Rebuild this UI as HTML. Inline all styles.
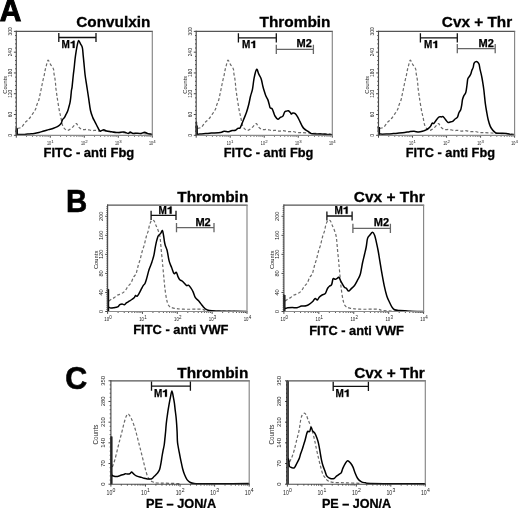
<!DOCTYPE html>
<html><head><meta charset="utf-8"><title>Flow cytometry histograms</title>
<style>
html,body{margin:0;padding:0;background:#fff;}
body{width:520px;height:508px;overflow:hidden;}
svg{display:block;filter:grayscale(1);}
text{font-family:"Liberation Sans", sans-serif;}
</style></head>
<body>
<svg width="520" height="508" viewBox="0 0 520 508" font-family="Liberation Sans, sans-serif">
<rect width="520" height="508" fill="#fff"/>
<line x1="13.90" y1="135.30" x2="16.30" y2="135.30" stroke="#333" stroke-width="0.9"/>
<line x1="15.10" y1="131.14" x2="16.30" y2="131.14" stroke="#333" stroke-width="0.9"/>
<line x1="15.10" y1="126.99" x2="16.30" y2="126.99" stroke="#333" stroke-width="0.9"/>
<line x1="15.10" y1="122.83" x2="16.30" y2="122.83" stroke="#333" stroke-width="0.9"/>
<line x1="15.10" y1="118.68" x2="16.30" y2="118.68" stroke="#333" stroke-width="0.9"/>
<line x1="13.90" y1="114.52" x2="16.30" y2="114.52" stroke="#333" stroke-width="0.9"/>
<line x1="15.10" y1="110.36" x2="16.30" y2="110.36" stroke="#333" stroke-width="0.9"/>
<line x1="15.10" y1="106.21" x2="16.30" y2="106.21" stroke="#333" stroke-width="0.9"/>
<line x1="15.10" y1="102.05" x2="16.30" y2="102.05" stroke="#333" stroke-width="0.9"/>
<line x1="15.10" y1="97.90" x2="16.30" y2="97.90" stroke="#333" stroke-width="0.9"/>
<line x1="13.90" y1="93.74" x2="16.30" y2="93.74" stroke="#333" stroke-width="0.9"/>
<line x1="15.10" y1="89.58" x2="16.30" y2="89.58" stroke="#333" stroke-width="0.9"/>
<line x1="15.10" y1="85.43" x2="16.30" y2="85.43" stroke="#333" stroke-width="0.9"/>
<line x1="15.10" y1="81.27" x2="16.30" y2="81.27" stroke="#333" stroke-width="0.9"/>
<line x1="15.10" y1="77.12" x2="16.30" y2="77.12" stroke="#333" stroke-width="0.9"/>
<line x1="13.90" y1="72.96" x2="16.30" y2="72.96" stroke="#333" stroke-width="0.9"/>
<line x1="15.10" y1="68.80" x2="16.30" y2="68.80" stroke="#333" stroke-width="0.9"/>
<line x1="15.10" y1="64.65" x2="16.30" y2="64.65" stroke="#333" stroke-width="0.9"/>
<line x1="15.10" y1="60.49" x2="16.30" y2="60.49" stroke="#333" stroke-width="0.9"/>
<line x1="15.10" y1="56.34" x2="16.30" y2="56.34" stroke="#333" stroke-width="0.9"/>
<line x1="13.90" y1="52.18" x2="16.30" y2="52.18" stroke="#333" stroke-width="0.9"/>
<line x1="15.10" y1="48.02" x2="16.30" y2="48.02" stroke="#333" stroke-width="0.9"/>
<line x1="15.10" y1="43.87" x2="16.30" y2="43.87" stroke="#333" stroke-width="0.9"/>
<line x1="15.10" y1="39.71" x2="16.30" y2="39.71" stroke="#333" stroke-width="0.9"/>
<line x1="15.10" y1="35.56" x2="16.30" y2="35.56" stroke="#333" stroke-width="0.9"/>
<line x1="13.90" y1="31.40" x2="16.30" y2="31.40" stroke="#333" stroke-width="0.9"/>
<text transform="translate(11.80 135.30) rotate(-90)" font-size="4.80" text-anchor="middle" fill="#1a1a1a">0</text>
<text transform="translate(11.80 114.52) rotate(-90)" font-size="4.80" text-anchor="middle" fill="#1a1a1a">60</text>
<text transform="translate(11.80 93.74) rotate(-90)" font-size="4.80" text-anchor="middle" fill="#1a1a1a">120</text>
<text transform="translate(11.80 72.96) rotate(-90)" font-size="4.80" text-anchor="middle" fill="#1a1a1a">180</text>
<text transform="translate(11.80 52.18) rotate(-90)" font-size="4.80" text-anchor="middle" fill="#1a1a1a">240</text>
<text transform="translate(11.80 31.40) rotate(-90)" font-size="4.80" text-anchor="middle" fill="#1a1a1a">300</text>
<text transform="translate(6.70 84.80) rotate(-90)" font-size="5.60" text-anchor="middle" fill="#1a1a1a">Counts</text>
<line x1="26.54" y1="135.30" x2="26.54" y2="136.70" stroke="#333" stroke-width="0.9"/>
<line x1="32.52" y1="135.30" x2="32.52" y2="136.70" stroke="#333" stroke-width="0.9"/>
<line x1="36.77" y1="135.30" x2="36.77" y2="136.70" stroke="#333" stroke-width="0.9"/>
<line x1="40.06" y1="135.30" x2="40.06" y2="136.70" stroke="#333" stroke-width="0.9"/>
<line x1="42.76" y1="135.30" x2="42.76" y2="136.70" stroke="#333" stroke-width="0.9"/>
<line x1="45.03" y1="135.30" x2="45.03" y2="136.70" stroke="#333" stroke-width="0.9"/>
<line x1="47.01" y1="135.30" x2="47.01" y2="136.70" stroke="#333" stroke-width="0.9"/>
<line x1="48.74" y1="135.30" x2="48.74" y2="136.70" stroke="#333" stroke-width="0.9"/>
<line x1="60.54" y1="135.30" x2="60.54" y2="136.70" stroke="#333" stroke-width="0.9"/>
<line x1="66.52" y1="135.30" x2="66.52" y2="136.70" stroke="#333" stroke-width="0.9"/>
<line x1="70.77" y1="135.30" x2="70.77" y2="136.70" stroke="#333" stroke-width="0.9"/>
<line x1="74.06" y1="135.30" x2="74.06" y2="136.70" stroke="#333" stroke-width="0.9"/>
<line x1="76.76" y1="135.30" x2="76.76" y2="136.70" stroke="#333" stroke-width="0.9"/>
<line x1="79.03" y1="135.30" x2="79.03" y2="136.70" stroke="#333" stroke-width="0.9"/>
<line x1="81.01" y1="135.30" x2="81.01" y2="136.70" stroke="#333" stroke-width="0.9"/>
<line x1="82.74" y1="135.30" x2="82.74" y2="136.70" stroke="#333" stroke-width="0.9"/>
<line x1="94.54" y1="135.30" x2="94.54" y2="136.70" stroke="#333" stroke-width="0.9"/>
<line x1="100.52" y1="135.30" x2="100.52" y2="136.70" stroke="#333" stroke-width="0.9"/>
<line x1="104.77" y1="135.30" x2="104.77" y2="136.70" stroke="#333" stroke-width="0.9"/>
<line x1="108.06" y1="135.30" x2="108.06" y2="136.70" stroke="#333" stroke-width="0.9"/>
<line x1="110.76" y1="135.30" x2="110.76" y2="136.70" stroke="#333" stroke-width="0.9"/>
<line x1="113.03" y1="135.30" x2="113.03" y2="136.70" stroke="#333" stroke-width="0.9"/>
<line x1="115.01" y1="135.30" x2="115.01" y2="136.70" stroke="#333" stroke-width="0.9"/>
<line x1="116.74" y1="135.30" x2="116.74" y2="136.70" stroke="#333" stroke-width="0.9"/>
<line x1="128.54" y1="135.30" x2="128.54" y2="136.70" stroke="#333" stroke-width="0.9"/>
<line x1="134.52" y1="135.30" x2="134.52" y2="136.70" stroke="#333" stroke-width="0.9"/>
<line x1="138.77" y1="135.30" x2="138.77" y2="136.70" stroke="#333" stroke-width="0.9"/>
<line x1="142.06" y1="135.30" x2="142.06" y2="136.70" stroke="#333" stroke-width="0.9"/>
<line x1="144.76" y1="135.30" x2="144.76" y2="136.70" stroke="#333" stroke-width="0.9"/>
<line x1="147.03" y1="135.30" x2="147.03" y2="136.70" stroke="#333" stroke-width="0.9"/>
<line x1="149.01" y1="135.30" x2="149.01" y2="136.70" stroke="#333" stroke-width="0.9"/>
<line x1="150.74" y1="135.30" x2="150.74" y2="136.70" stroke="#333" stroke-width="0.9"/>
<line x1="16.30" y1="135.30" x2="16.30" y2="137.70" stroke="#333" stroke-width="0.9"/>
<line x1="50.30" y1="135.30" x2="50.30" y2="137.70" stroke="#333" stroke-width="0.9"/>
<text x="46.90" y="145.10" font-size="5.40" fill="#1a1a1a" textLength="4.10" lengthAdjust="spacingAndGlyphs">10</text>
<text x="51.20" y="142.67" font-size="4.32" fill="#1a1a1a">1</text>
<line x1="84.30" y1="135.30" x2="84.30" y2="137.70" stroke="#333" stroke-width="0.9"/>
<text x="80.90" y="145.10" font-size="5.40" fill="#1a1a1a" textLength="4.10" lengthAdjust="spacingAndGlyphs">10</text>
<text x="85.20" y="142.67" font-size="4.32" fill="#1a1a1a">2</text>
<line x1="118.30" y1="135.30" x2="118.30" y2="137.70" stroke="#333" stroke-width="0.9"/>
<text x="114.90" y="145.10" font-size="5.40" fill="#1a1a1a" textLength="4.10" lengthAdjust="spacingAndGlyphs">10</text>
<text x="119.20" y="142.67" font-size="4.32" fill="#1a1a1a">3</text>
<line x1="152.30" y1="135.30" x2="152.30" y2="137.70" stroke="#333" stroke-width="0.9"/>
<text x="148.90" y="145.10" font-size="5.40" fill="#1a1a1a" textLength="4.10" lengthAdjust="spacingAndGlyphs">10</text>
<text x="153.20" y="142.67" font-size="4.32" fill="#1a1a1a">4</text>
<path d="M17.60 128.40 C18.25 128.20 20.27 128.17 21.50 127.20 C22.73 126.23 23.82 123.90 25.00 122.60 C26.18 121.30 27.38 120.78 28.60 119.40 C29.82 118.02 31.17 115.95 32.30 114.30 C33.43 112.65 34.63 111.08 35.40 109.50 C36.17 107.92 36.32 106.43 36.90 104.80 C37.48 103.17 38.38 101.38 38.90 99.70 C39.42 98.02 39.65 96.32 40.00 94.70 C40.35 93.08 40.67 91.62 41.00 90.00 C41.33 88.38 41.65 86.70 42.00 85.00 C42.35 83.30 42.72 81.50 43.10 79.80 C43.48 78.10 43.95 76.43 44.30 74.80 C44.65 73.17 44.85 71.58 45.20 70.00 C45.55 68.42 45.92 66.93 46.40 65.30 C46.88 63.67 47.42 60.35 48.10 60.20 C48.78 60.05 49.62 62.95 50.50 64.40 C51.38 65.85 52.82 67.37 53.40 68.90 C53.98 70.43 53.75 72.03 54.00 73.60 C54.25 75.17 54.65 76.68 54.90 78.30 C55.15 79.92 55.33 81.62 55.50 83.30 C55.67 84.98 55.72 86.73 55.90 88.40 C56.08 90.07 56.35 91.57 56.60 93.30 C56.85 95.03 56.98 96.13 57.40 98.80 C57.82 101.47 58.52 106.17 59.10 109.30 C59.68 112.43 60.30 114.85 60.90 117.60 C61.50 120.35 61.92 123.80 62.70 125.80 C63.48 127.80 64.72 128.85 65.60 129.60 C66.48 130.35 67.02 130.53 68.00 130.30 C68.98 130.07 70.42 129.05 71.50 128.20 C72.58 127.35 73.67 125.97 74.50 125.20 C75.33 124.43 75.82 123.30 76.50 123.60 C77.18 123.90 77.65 126.00 78.60 127.00 C79.55 128.00 80.78 129.20 82.20 129.60 C83.62 130.00 85.48 129.23 87.10 129.40 C88.72 129.57 90.45 130.45 91.90 130.60 C93.35 130.75 94.52 130.22 95.80 130.30 C97.08 130.38 98.32 131.05 99.60 131.10 C100.88 131.15 102.05 130.50 103.50 130.60 C104.95 130.70 106.70 131.55 108.30 131.70 C109.90 131.85 111.67 131.37 113.10 131.50 C114.53 131.63 115.57 132.32 116.90 132.50 C118.23 132.68 119.03 132.52 121.10 132.60 C123.17 132.68 126.15 132.83 129.30 133.00 C132.45 133.17 136.30 133.43 140.00 133.60 C143.70 133.77 149.58 133.93 151.50 134.00" fill="none" stroke="#6a6a6a" stroke-width="1.20" stroke-dasharray="3.0 2.1" stroke-linejoin="round"/>
<line x1="16.80" y1="128.30" x2="16.80" y2="135.30" stroke="#000" stroke-width="2.20"/>
<path d="M16.50 128.30 C16.53 129.18 16.53 132.58 16.70 133.60 C16.87 134.62 16.18 134.27 17.50 134.40 C18.82 134.53 22.62 134.48 24.60 134.40 C26.58 134.32 27.80 134.05 29.40 133.90 C31.00 133.75 32.60 133.73 34.20 133.50 C35.80 133.27 37.40 132.92 39.00 132.50 C40.60 132.08 42.18 131.48 43.80 131.00 C45.42 130.52 47.08 130.07 48.70 129.60 C50.32 129.13 52.05 128.70 53.50 128.20 C54.95 127.70 56.37 127.13 57.40 126.60 C58.43 126.07 59.05 125.58 59.70 125.00 C60.35 124.42 60.90 123.82 61.30 123.10 C61.70 122.38 61.83 121.37 62.10 120.70 C62.37 120.03 62.52 119.62 62.90 119.10 C63.28 118.58 63.88 118.38 64.40 117.60 C64.92 116.82 65.47 115.45 66.00 114.40 C66.53 113.35 67.13 112.48 67.60 111.30 C68.07 110.12 68.40 108.75 68.80 107.30 C69.20 105.85 69.68 104.17 70.00 102.60 C70.32 101.03 70.52 99.35 70.70 97.90 C70.88 96.45 70.97 95.22 71.10 93.90 C71.23 92.58 71.33 91.18 71.50 90.00 C71.67 88.82 71.80 89.30 72.10 86.80 C72.40 84.30 72.95 78.22 73.30 75.00 C73.65 71.78 73.92 70.07 74.20 67.50 C74.48 64.93 74.68 62.23 75.00 59.60 C75.32 56.97 75.68 54.32 76.10 51.70 C76.52 49.08 77.07 45.78 77.50 43.90 C77.93 42.02 78.20 40.40 78.70 40.40 C79.20 40.40 79.88 42.67 80.50 43.90 C81.12 45.13 81.95 45.83 82.40 47.80 C82.85 49.77 82.93 53.07 83.20 55.70 C83.47 58.33 83.68 60.38 84.00 63.60 C84.32 66.82 84.62 71.13 85.10 75.00 C85.58 78.87 86.30 82.87 86.90 86.80 C87.50 90.73 88.10 94.65 88.70 98.60 C89.30 102.55 89.82 107.33 90.50 110.50 C91.18 113.67 92.02 115.63 92.80 117.60 C93.58 119.57 94.35 120.62 95.20 122.30 C96.05 123.98 97.07 126.23 97.90 127.70 C98.73 129.17 99.23 130.75 100.20 131.10 C101.17 131.45 102.65 129.80 103.70 129.80 C104.75 129.80 105.45 130.83 106.50 131.10 C107.55 131.37 108.83 131.20 110.00 131.40 C111.17 131.60 112.15 132.12 113.50 132.30 C114.85 132.48 116.38 132.53 118.10 132.50 C119.82 132.47 122.08 131.93 123.80 132.10 C125.52 132.27 127.33 133.50 128.40 133.50 C129.47 133.50 129.42 132.10 130.20 132.10 C130.98 132.10 131.85 133.32 133.10 133.50 C134.35 133.68 136.37 133.20 137.70 133.20 C139.03 133.20 139.95 133.65 141.10 133.50 C142.25 133.35 143.45 132.27 144.60 132.30 C145.75 132.33 146.77 133.35 148.00 133.70 C149.23 134.05 151.33 134.28 152.00 134.40" fill="none" stroke="#000" stroke-width="1.50" stroke-linejoin="round" stroke-linecap="round"/>
<path d="M15.70 31.40 H152.90" stroke="#555555" stroke-width="1.15" fill="none"/>
<path d="M152.30 31.40 V135.30" stroke="#858585" stroke-width="1.15" fill="none"/>
<path d="M16.30 135.30 H152.90" stroke="#8a8a8a" stroke-width="1.15" fill="none"/>
<path d="M16.30 30.80 V135.90" stroke="#4a4a4a" stroke-width="1.15" fill="none"/>
<path d="M58.80 37.50 H96.00 M58.80 32.90 V42.10 M96.00 32.90 V42.10" stroke="#111" stroke-width="1.3" fill="none"/>
<text x="61.60" y="48.00" font-size="10.2" font-weight="bold" stroke="#000" stroke-width="0.25" textLength="8.3" lengthAdjust="spacingAndGlyphs">M</text>
<path d="M72.71 48.00 L74.63 48.00 L74.63 40.70 L73.11 40.70 L72.71 41.32 L71.90 41.88 L70.59 42.13 L70.59 43.36 L72.71 43.16 Z" fill="#000" stroke="#000" stroke-width="0.25" stroke-linejoin="round"/>
<text x="76.20" y="26.80" font-size="15.1" font-weight="bold" stroke="#000" stroke-width="0.3" textLength="74.2" lengthAdjust="spacingAndGlyphs">Convulxin</text>
<text x="43.60" y="157.00" font-size="13" font-weight="bold" stroke="#000" stroke-width="0.3" textLength="90.6" lengthAdjust="spacingAndGlyphs">FITC - anti Fbg</text>
<line x1="193.80" y1="135.30" x2="196.20" y2="135.30" stroke="#333" stroke-width="0.9"/>
<line x1="195.00" y1="131.14" x2="196.20" y2="131.14" stroke="#333" stroke-width="0.9"/>
<line x1="195.00" y1="126.99" x2="196.20" y2="126.99" stroke="#333" stroke-width="0.9"/>
<line x1="195.00" y1="122.83" x2="196.20" y2="122.83" stroke="#333" stroke-width="0.9"/>
<line x1="195.00" y1="118.68" x2="196.20" y2="118.68" stroke="#333" stroke-width="0.9"/>
<line x1="193.80" y1="114.52" x2="196.20" y2="114.52" stroke="#333" stroke-width="0.9"/>
<line x1="195.00" y1="110.36" x2="196.20" y2="110.36" stroke="#333" stroke-width="0.9"/>
<line x1="195.00" y1="106.21" x2="196.20" y2="106.21" stroke="#333" stroke-width="0.9"/>
<line x1="195.00" y1="102.05" x2="196.20" y2="102.05" stroke="#333" stroke-width="0.9"/>
<line x1="195.00" y1="97.90" x2="196.20" y2="97.90" stroke="#333" stroke-width="0.9"/>
<line x1="193.80" y1="93.74" x2="196.20" y2="93.74" stroke="#333" stroke-width="0.9"/>
<line x1="195.00" y1="89.58" x2="196.20" y2="89.58" stroke="#333" stroke-width="0.9"/>
<line x1="195.00" y1="85.43" x2="196.20" y2="85.43" stroke="#333" stroke-width="0.9"/>
<line x1="195.00" y1="81.27" x2="196.20" y2="81.27" stroke="#333" stroke-width="0.9"/>
<line x1="195.00" y1="77.12" x2="196.20" y2="77.12" stroke="#333" stroke-width="0.9"/>
<line x1="193.80" y1="72.96" x2="196.20" y2="72.96" stroke="#333" stroke-width="0.9"/>
<line x1="195.00" y1="68.80" x2="196.20" y2="68.80" stroke="#333" stroke-width="0.9"/>
<line x1="195.00" y1="64.65" x2="196.20" y2="64.65" stroke="#333" stroke-width="0.9"/>
<line x1="195.00" y1="60.49" x2="196.20" y2="60.49" stroke="#333" stroke-width="0.9"/>
<line x1="195.00" y1="56.34" x2="196.20" y2="56.34" stroke="#333" stroke-width="0.9"/>
<line x1="193.80" y1="52.18" x2="196.20" y2="52.18" stroke="#333" stroke-width="0.9"/>
<line x1="195.00" y1="48.02" x2="196.20" y2="48.02" stroke="#333" stroke-width="0.9"/>
<line x1="195.00" y1="43.87" x2="196.20" y2="43.87" stroke="#333" stroke-width="0.9"/>
<line x1="195.00" y1="39.71" x2="196.20" y2="39.71" stroke="#333" stroke-width="0.9"/>
<line x1="195.00" y1="35.56" x2="196.20" y2="35.56" stroke="#333" stroke-width="0.9"/>
<line x1="193.80" y1="31.40" x2="196.20" y2="31.40" stroke="#333" stroke-width="0.9"/>
<text transform="translate(191.70 135.30) rotate(-90)" font-size="4.80" text-anchor="middle" fill="#1a1a1a">0</text>
<text transform="translate(191.70 114.52) rotate(-90)" font-size="4.80" text-anchor="middle" fill="#1a1a1a">60</text>
<text transform="translate(191.70 93.74) rotate(-90)" font-size="4.80" text-anchor="middle" fill="#1a1a1a">120</text>
<text transform="translate(191.70 72.96) rotate(-90)" font-size="4.80" text-anchor="middle" fill="#1a1a1a">180</text>
<text transform="translate(191.70 52.18) rotate(-90)" font-size="4.80" text-anchor="middle" fill="#1a1a1a">240</text>
<text transform="translate(191.70 31.40) rotate(-90)" font-size="4.80" text-anchor="middle" fill="#1a1a1a">300</text>
<text transform="translate(186.60 84.80) rotate(-90)" font-size="5.60" text-anchor="middle" fill="#1a1a1a">Counts</text>
<line x1="206.44" y1="135.30" x2="206.44" y2="136.70" stroke="#333" stroke-width="0.9"/>
<line x1="212.43" y1="135.30" x2="212.43" y2="136.70" stroke="#333" stroke-width="0.9"/>
<line x1="216.69" y1="135.30" x2="216.69" y2="136.70" stroke="#333" stroke-width="0.9"/>
<line x1="219.98" y1="135.30" x2="219.98" y2="136.70" stroke="#333" stroke-width="0.9"/>
<line x1="222.68" y1="135.30" x2="222.68" y2="136.70" stroke="#333" stroke-width="0.9"/>
<line x1="224.95" y1="135.30" x2="224.95" y2="136.70" stroke="#333" stroke-width="0.9"/>
<line x1="226.93" y1="135.30" x2="226.93" y2="136.70" stroke="#333" stroke-width="0.9"/>
<line x1="228.67" y1="135.30" x2="228.67" y2="136.70" stroke="#333" stroke-width="0.9"/>
<line x1="240.47" y1="135.30" x2="240.47" y2="136.70" stroke="#333" stroke-width="0.9"/>
<line x1="246.46" y1="135.30" x2="246.46" y2="136.70" stroke="#333" stroke-width="0.9"/>
<line x1="250.71" y1="135.30" x2="250.71" y2="136.70" stroke="#333" stroke-width="0.9"/>
<line x1="254.01" y1="135.30" x2="254.01" y2="136.70" stroke="#333" stroke-width="0.9"/>
<line x1="256.70" y1="135.30" x2="256.70" y2="136.70" stroke="#333" stroke-width="0.9"/>
<line x1="258.98" y1="135.30" x2="258.98" y2="136.70" stroke="#333" stroke-width="0.9"/>
<line x1="260.95" y1="135.30" x2="260.95" y2="136.70" stroke="#333" stroke-width="0.9"/>
<line x1="262.69" y1="135.30" x2="262.69" y2="136.70" stroke="#333" stroke-width="0.9"/>
<line x1="274.49" y1="135.30" x2="274.49" y2="136.70" stroke="#333" stroke-width="0.9"/>
<line x1="280.48" y1="135.30" x2="280.48" y2="136.70" stroke="#333" stroke-width="0.9"/>
<line x1="284.74" y1="135.30" x2="284.74" y2="136.70" stroke="#333" stroke-width="0.9"/>
<line x1="288.03" y1="135.30" x2="288.03" y2="136.70" stroke="#333" stroke-width="0.9"/>
<line x1="290.73" y1="135.30" x2="290.73" y2="136.70" stroke="#333" stroke-width="0.9"/>
<line x1="293.00" y1="135.30" x2="293.00" y2="136.70" stroke="#333" stroke-width="0.9"/>
<line x1="294.98" y1="135.30" x2="294.98" y2="136.70" stroke="#333" stroke-width="0.9"/>
<line x1="296.72" y1="135.30" x2="296.72" y2="136.70" stroke="#333" stroke-width="0.9"/>
<line x1="308.52" y1="135.30" x2="308.52" y2="136.70" stroke="#333" stroke-width="0.9"/>
<line x1="314.51" y1="135.30" x2="314.51" y2="136.70" stroke="#333" stroke-width="0.9"/>
<line x1="318.76" y1="135.30" x2="318.76" y2="136.70" stroke="#333" stroke-width="0.9"/>
<line x1="322.06" y1="135.30" x2="322.06" y2="136.70" stroke="#333" stroke-width="0.9"/>
<line x1="324.75" y1="135.30" x2="324.75" y2="136.70" stroke="#333" stroke-width="0.9"/>
<line x1="327.03" y1="135.30" x2="327.03" y2="136.70" stroke="#333" stroke-width="0.9"/>
<line x1="329.00" y1="135.30" x2="329.00" y2="136.70" stroke="#333" stroke-width="0.9"/>
<line x1="330.74" y1="135.30" x2="330.74" y2="136.70" stroke="#333" stroke-width="0.9"/>
<line x1="196.20" y1="135.30" x2="196.20" y2="137.70" stroke="#333" stroke-width="0.9"/>
<line x1="230.22" y1="135.30" x2="230.22" y2="137.70" stroke="#333" stroke-width="0.9"/>
<text x="226.82" y="145.10" font-size="5.40" fill="#1a1a1a" textLength="4.10" lengthAdjust="spacingAndGlyphs">10</text>
<text x="231.12" y="142.67" font-size="4.32" fill="#1a1a1a">1</text>
<line x1="264.25" y1="135.30" x2="264.25" y2="137.70" stroke="#333" stroke-width="0.9"/>
<text x="260.85" y="145.10" font-size="5.40" fill="#1a1a1a" textLength="4.10" lengthAdjust="spacingAndGlyphs">10</text>
<text x="265.15" y="142.67" font-size="4.32" fill="#1a1a1a">2</text>
<line x1="298.27" y1="135.30" x2="298.27" y2="137.70" stroke="#333" stroke-width="0.9"/>
<text x="294.88" y="145.10" font-size="5.40" fill="#1a1a1a" textLength="4.10" lengthAdjust="spacingAndGlyphs">10</text>
<text x="299.18" y="142.67" font-size="4.32" fill="#1a1a1a">3</text>
<line x1="332.30" y1="135.30" x2="332.30" y2="137.70" stroke="#333" stroke-width="0.9"/>
<text x="328.90" y="145.10" font-size="5.40" fill="#1a1a1a" textLength="4.10" lengthAdjust="spacingAndGlyphs">10</text>
<text x="333.20" y="142.67" font-size="4.32" fill="#1a1a1a">4</text>
<path d="M197.50 128.40 C198.15 128.20 200.17 128.17 201.40 127.20 C202.63 126.23 203.72 123.90 204.90 122.60 C206.08 121.30 207.28 120.78 208.50 119.40 C209.72 118.02 211.07 115.95 212.20 114.30 C213.33 112.65 214.53 111.08 215.30 109.50 C216.07 107.92 216.22 106.43 216.80 104.80 C217.38 103.17 218.28 101.38 218.80 99.70 C219.32 98.02 219.55 96.32 219.90 94.70 C220.25 93.08 220.57 91.62 220.90 90.00 C221.23 88.38 221.55 86.70 221.90 85.00 C222.25 83.30 222.62 81.50 223.00 79.80 C223.38 78.10 223.85 76.43 224.20 74.80 C224.55 73.17 224.75 71.58 225.10 70.00 C225.45 68.42 225.82 66.93 226.30 65.30 C226.78 63.67 227.32 60.35 228.00 60.20 C228.68 60.05 229.52 62.95 230.40 64.40 C231.28 65.85 232.72 67.37 233.30 68.90 C233.88 70.43 233.65 72.03 233.90 73.60 C234.15 75.17 234.55 76.68 234.80 78.30 C235.05 79.92 235.23 81.62 235.40 83.30 C235.57 84.98 235.62 86.73 235.80 88.40 C235.98 90.07 236.25 91.57 236.50 93.30 C236.75 95.03 236.88 96.13 237.30 98.80 C237.72 101.47 238.42 106.17 239.00 109.30 C239.58 112.43 240.20 114.85 240.80 117.60 C241.40 120.35 241.82 123.80 242.60 125.80 C243.38 127.80 244.62 128.85 245.50 129.60 C246.38 130.35 246.92 130.53 247.90 130.30 C248.88 130.07 250.32 129.05 251.40 128.20 C252.48 127.35 253.57 125.97 254.40 125.20 C255.23 124.43 255.72 123.30 256.40 123.60 C257.08 123.90 257.55 126.00 258.50 127.00 C259.45 128.00 260.68 129.20 262.10 129.60 C263.52 130.00 265.38 129.23 267.00 129.40 C268.62 129.57 270.35 130.45 271.80 130.60 C273.25 130.75 274.42 130.22 275.70 130.30 C276.98 130.38 278.22 131.05 279.50 131.10 C280.78 131.15 281.95 130.50 283.40 130.60 C284.85 130.70 286.60 131.55 288.20 131.70 C289.80 131.85 291.57 131.37 293.00 131.50 C294.43 131.63 295.47 132.32 296.80 132.50 C298.13 132.68 298.93 132.52 301.00 132.60 C303.07 132.68 306.05 132.83 309.20 133.00 C312.35 133.17 316.20 133.43 319.90 133.60 C323.60 133.77 329.48 133.93 331.40 134.00" fill="none" stroke="#6a6a6a" stroke-width="1.20" stroke-dasharray="3.0 2.1" stroke-linejoin="round"/>
<line x1="196.70" y1="125.50" x2="196.70" y2="135.30" stroke="#000" stroke-width="2.20"/>
<path d="M196.40 122.00 C196.48 123.88 196.33 131.30 196.90 133.30 C197.47 135.30 198.37 133.95 199.80 134.00 C201.23 134.05 203.58 133.75 205.50 133.60 C207.42 133.45 208.80 133.28 211.30 133.10 C213.80 132.92 218.38 132.80 220.50 132.50 C222.62 132.20 222.65 131.43 224.00 131.30 C225.35 131.17 227.25 131.83 228.60 131.70 C229.95 131.57 230.95 130.75 232.10 130.50 C233.25 130.25 234.55 130.55 235.50 130.20 C236.45 129.85 237.03 128.78 237.80 128.40 C238.57 128.02 239.42 128.67 240.10 127.90 C240.78 127.13 241.22 125.43 241.90 123.80 C242.58 122.17 243.43 120.02 244.20 118.10 C244.97 116.18 245.73 114.62 246.50 112.30 C247.27 109.98 248.13 106.88 248.80 104.20 C249.47 101.52 249.88 98.72 250.50 96.20 C251.12 93.68 251.90 92.12 252.50 89.10 C253.10 86.08 253.42 81.40 254.10 78.10 C254.78 74.80 255.82 69.95 256.60 69.30 C257.38 68.65 258.03 72.60 258.80 74.20 C259.57 75.80 260.53 76.93 261.20 78.90 C261.87 80.87 262.35 84.15 262.80 86.00 C263.25 87.85 263.40 88.37 263.90 90.00 C264.40 91.63 265.15 94.20 265.80 95.80 C266.45 97.40 267.23 98.17 267.80 99.60 C268.37 101.03 268.80 103.03 269.20 104.40 C269.60 105.77 269.72 107.07 270.20 107.80 C270.68 108.53 271.55 108.08 272.10 108.80 C272.65 109.52 273.02 110.90 273.50 112.10 C273.98 113.30 274.27 114.80 275.00 116.00 C275.73 117.20 277.02 119.07 277.90 119.30 C278.78 119.53 279.50 117.88 280.30 117.40 C281.10 116.92 281.98 117.28 282.70 116.40 C283.42 115.52 284.05 112.97 284.60 112.10 C285.15 111.23 285.37 111.43 286.00 111.20 C286.63 110.97 287.67 110.47 288.40 110.70 C289.13 110.93 289.92 112.05 290.40 112.60 C290.88 113.15 290.90 113.92 291.30 114.00 C291.70 114.08 292.15 113.17 292.80 113.10 C293.45 113.03 294.40 112.97 295.20 113.60 C296.00 114.23 296.80 115.55 297.60 116.90 C298.40 118.25 299.20 120.10 300.00 121.70 C300.80 123.30 301.68 125.30 302.40 126.50 C303.12 127.70 303.50 128.17 304.30 128.90 C305.10 129.63 306.23 130.25 307.20 130.90 C308.17 131.55 309.30 132.32 310.10 132.80 C310.90 133.28 310.68 133.60 312.00 133.80 C313.32 134.00 315.83 133.93 318.00 134.00 C320.17 134.07 322.67 134.07 325.00 134.20 C327.33 134.33 330.83 134.70 332.00 134.80" fill="none" stroke="#000" stroke-width="1.50" stroke-linejoin="round" stroke-linecap="round"/>
<path d="M195.60 31.40 H332.90" stroke="#555555" stroke-width="1.15" fill="none"/>
<path d="M332.30 31.40 V135.30" stroke="#858585" stroke-width="1.15" fill="none"/>
<path d="M196.20 135.30 H332.90" stroke="#8a8a8a" stroke-width="1.15" fill="none"/>
<path d="M196.20 30.80 V135.90" stroke="#4a4a4a" stroke-width="1.15" fill="none"/>
<path d="M238.40 37.90 H276.30 M238.40 33.30 V42.50 M276.30 33.30 V42.50" stroke="#111" stroke-width="1.3" fill="none"/>
<text x="242.10" y="48.00" font-size="10.2" font-weight="bold" stroke="#000" stroke-width="0.25" textLength="8.3" lengthAdjust="spacingAndGlyphs">M</text>
<path d="M253.21 48.00 L255.13 48.00 L255.13 40.70 L253.61 40.70 L253.21 41.32 L252.40 41.88 L251.09 42.13 L251.09 43.36 L253.21 43.16 Z" fill="#000" stroke="#000" stroke-width="0.25" stroke-linejoin="round"/>
<path d="M276.30 49.30 H313.40 M276.30 44.70 V53.90 M313.40 44.70 V53.90" stroke="#666" stroke-width="1.3" fill="none"/>
<text x="296.60" y="47.30" font-size="10.2" font-weight="bold" stroke="#000" stroke-width="0.25" textLength="15.3" lengthAdjust="spacingAndGlyphs">M2</text>
<text x="259.50" y="26.80" font-size="15.1" font-weight="bold" stroke="#000" stroke-width="0.3" textLength="71.0" lengthAdjust="spacingAndGlyphs">Thrombin</text>
<text x="223.80" y="157.00" font-size="13" font-weight="bold" stroke="#000" stroke-width="0.3" textLength="89.6" lengthAdjust="spacingAndGlyphs">FITC - anti Fbg</text>
<line x1="376.10" y1="135.30" x2="378.50" y2="135.30" stroke="#333" stroke-width="0.9"/>
<line x1="377.30" y1="131.14" x2="378.50" y2="131.14" stroke="#333" stroke-width="0.9"/>
<line x1="377.30" y1="126.99" x2="378.50" y2="126.99" stroke="#333" stroke-width="0.9"/>
<line x1="377.30" y1="122.83" x2="378.50" y2="122.83" stroke="#333" stroke-width="0.9"/>
<line x1="377.30" y1="118.68" x2="378.50" y2="118.68" stroke="#333" stroke-width="0.9"/>
<line x1="376.10" y1="114.52" x2="378.50" y2="114.52" stroke="#333" stroke-width="0.9"/>
<line x1="377.30" y1="110.36" x2="378.50" y2="110.36" stroke="#333" stroke-width="0.9"/>
<line x1="377.30" y1="106.21" x2="378.50" y2="106.21" stroke="#333" stroke-width="0.9"/>
<line x1="377.30" y1="102.05" x2="378.50" y2="102.05" stroke="#333" stroke-width="0.9"/>
<line x1="377.30" y1="97.90" x2="378.50" y2="97.90" stroke="#333" stroke-width="0.9"/>
<line x1="376.10" y1="93.74" x2="378.50" y2="93.74" stroke="#333" stroke-width="0.9"/>
<line x1="377.30" y1="89.58" x2="378.50" y2="89.58" stroke="#333" stroke-width="0.9"/>
<line x1="377.30" y1="85.43" x2="378.50" y2="85.43" stroke="#333" stroke-width="0.9"/>
<line x1="377.30" y1="81.27" x2="378.50" y2="81.27" stroke="#333" stroke-width="0.9"/>
<line x1="377.30" y1="77.12" x2="378.50" y2="77.12" stroke="#333" stroke-width="0.9"/>
<line x1="376.10" y1="72.96" x2="378.50" y2="72.96" stroke="#333" stroke-width="0.9"/>
<line x1="377.30" y1="68.80" x2="378.50" y2="68.80" stroke="#333" stroke-width="0.9"/>
<line x1="377.30" y1="64.65" x2="378.50" y2="64.65" stroke="#333" stroke-width="0.9"/>
<line x1="377.30" y1="60.49" x2="378.50" y2="60.49" stroke="#333" stroke-width="0.9"/>
<line x1="377.30" y1="56.34" x2="378.50" y2="56.34" stroke="#333" stroke-width="0.9"/>
<line x1="376.10" y1="52.18" x2="378.50" y2="52.18" stroke="#333" stroke-width="0.9"/>
<line x1="377.30" y1="48.02" x2="378.50" y2="48.02" stroke="#333" stroke-width="0.9"/>
<line x1="377.30" y1="43.87" x2="378.50" y2="43.87" stroke="#333" stroke-width="0.9"/>
<line x1="377.30" y1="39.71" x2="378.50" y2="39.71" stroke="#333" stroke-width="0.9"/>
<line x1="377.30" y1="35.56" x2="378.50" y2="35.56" stroke="#333" stroke-width="0.9"/>
<line x1="376.10" y1="31.40" x2="378.50" y2="31.40" stroke="#333" stroke-width="0.9"/>
<text transform="translate(374.00 135.30) rotate(-90)" font-size="4.80" text-anchor="middle" fill="#1a1a1a">0</text>
<text transform="translate(374.00 114.52) rotate(-90)" font-size="4.80" text-anchor="middle" fill="#1a1a1a">60</text>
<text transform="translate(374.00 93.74) rotate(-90)" font-size="4.80" text-anchor="middle" fill="#1a1a1a">120</text>
<text transform="translate(374.00 72.96) rotate(-90)" font-size="4.80" text-anchor="middle" fill="#1a1a1a">180</text>
<text transform="translate(374.00 52.18) rotate(-90)" font-size="4.80" text-anchor="middle" fill="#1a1a1a">240</text>
<text transform="translate(374.00 31.40) rotate(-90)" font-size="4.80" text-anchor="middle" fill="#1a1a1a">300</text>
<text transform="translate(368.90 84.80) rotate(-90)" font-size="5.60" text-anchor="middle" fill="#1a1a1a">Counts</text>
<line x1="388.74" y1="135.30" x2="388.74" y2="136.70" stroke="#333" stroke-width="0.9"/>
<line x1="394.73" y1="135.30" x2="394.73" y2="136.70" stroke="#333" stroke-width="0.9"/>
<line x1="398.99" y1="135.30" x2="398.99" y2="136.70" stroke="#333" stroke-width="0.9"/>
<line x1="402.28" y1="135.30" x2="402.28" y2="136.70" stroke="#333" stroke-width="0.9"/>
<line x1="404.98" y1="135.30" x2="404.98" y2="136.70" stroke="#333" stroke-width="0.9"/>
<line x1="407.25" y1="135.30" x2="407.25" y2="136.70" stroke="#333" stroke-width="0.9"/>
<line x1="409.23" y1="135.30" x2="409.23" y2="136.70" stroke="#333" stroke-width="0.9"/>
<line x1="410.97" y1="135.30" x2="410.97" y2="136.70" stroke="#333" stroke-width="0.9"/>
<line x1="422.77" y1="135.30" x2="422.77" y2="136.70" stroke="#333" stroke-width="0.9"/>
<line x1="428.76" y1="135.30" x2="428.76" y2="136.70" stroke="#333" stroke-width="0.9"/>
<line x1="433.01" y1="135.30" x2="433.01" y2="136.70" stroke="#333" stroke-width="0.9"/>
<line x1="436.31" y1="135.30" x2="436.31" y2="136.70" stroke="#333" stroke-width="0.9"/>
<line x1="439.00" y1="135.30" x2="439.00" y2="136.70" stroke="#333" stroke-width="0.9"/>
<line x1="441.28" y1="135.30" x2="441.28" y2="136.70" stroke="#333" stroke-width="0.9"/>
<line x1="443.25" y1="135.30" x2="443.25" y2="136.70" stroke="#333" stroke-width="0.9"/>
<line x1="444.99" y1="135.30" x2="444.99" y2="136.70" stroke="#333" stroke-width="0.9"/>
<line x1="456.79" y1="135.30" x2="456.79" y2="136.70" stroke="#333" stroke-width="0.9"/>
<line x1="462.78" y1="135.30" x2="462.78" y2="136.70" stroke="#333" stroke-width="0.9"/>
<line x1="467.04" y1="135.30" x2="467.04" y2="136.70" stroke="#333" stroke-width="0.9"/>
<line x1="470.33" y1="135.30" x2="470.33" y2="136.70" stroke="#333" stroke-width="0.9"/>
<line x1="473.03" y1="135.30" x2="473.03" y2="136.70" stroke="#333" stroke-width="0.9"/>
<line x1="475.30" y1="135.30" x2="475.30" y2="136.70" stroke="#333" stroke-width="0.9"/>
<line x1="477.28" y1="135.30" x2="477.28" y2="136.70" stroke="#333" stroke-width="0.9"/>
<line x1="479.02" y1="135.30" x2="479.02" y2="136.70" stroke="#333" stroke-width="0.9"/>
<line x1="490.82" y1="135.30" x2="490.82" y2="136.70" stroke="#333" stroke-width="0.9"/>
<line x1="496.81" y1="135.30" x2="496.81" y2="136.70" stroke="#333" stroke-width="0.9"/>
<line x1="501.06" y1="135.30" x2="501.06" y2="136.70" stroke="#333" stroke-width="0.9"/>
<line x1="504.36" y1="135.30" x2="504.36" y2="136.70" stroke="#333" stroke-width="0.9"/>
<line x1="507.05" y1="135.30" x2="507.05" y2="136.70" stroke="#333" stroke-width="0.9"/>
<line x1="509.33" y1="135.30" x2="509.33" y2="136.70" stroke="#333" stroke-width="0.9"/>
<line x1="511.30" y1="135.30" x2="511.30" y2="136.70" stroke="#333" stroke-width="0.9"/>
<line x1="513.04" y1="135.30" x2="513.04" y2="136.70" stroke="#333" stroke-width="0.9"/>
<line x1="378.50" y1="135.30" x2="378.50" y2="137.70" stroke="#333" stroke-width="0.9"/>
<line x1="412.52" y1="135.30" x2="412.52" y2="137.70" stroke="#333" stroke-width="0.9"/>
<text x="409.12" y="145.10" font-size="5.40" fill="#1a1a1a" textLength="4.10" lengthAdjust="spacingAndGlyphs">10</text>
<text x="413.43" y="142.67" font-size="4.32" fill="#1a1a1a">1</text>
<line x1="446.55" y1="135.30" x2="446.55" y2="137.70" stroke="#333" stroke-width="0.9"/>
<text x="443.15" y="145.10" font-size="5.40" fill="#1a1a1a" textLength="4.10" lengthAdjust="spacingAndGlyphs">10</text>
<text x="447.45" y="142.67" font-size="4.32" fill="#1a1a1a">2</text>
<line x1="480.58" y1="135.30" x2="480.58" y2="137.70" stroke="#333" stroke-width="0.9"/>
<text x="477.18" y="145.10" font-size="5.40" fill="#1a1a1a" textLength="4.10" lengthAdjust="spacingAndGlyphs">10</text>
<text x="481.48" y="142.67" font-size="4.32" fill="#1a1a1a">3</text>
<line x1="514.60" y1="135.30" x2="514.60" y2="137.70" stroke="#333" stroke-width="0.9"/>
<text x="511.20" y="145.10" font-size="5.40" fill="#1a1a1a" textLength="4.10" lengthAdjust="spacingAndGlyphs">10</text>
<text x="515.50" y="142.67" font-size="4.32" fill="#1a1a1a">4</text>
<path d="M379.80 128.40 C380.45 128.20 382.47 128.17 383.70 127.20 C384.93 126.23 386.02 123.90 387.20 122.60 C388.38 121.30 389.58 120.78 390.80 119.40 C392.02 118.02 393.37 115.95 394.50 114.30 C395.63 112.65 396.83 111.08 397.60 109.50 C398.37 107.92 398.52 106.43 399.10 104.80 C399.68 103.17 400.58 101.38 401.10 99.70 C401.62 98.02 401.85 96.32 402.20 94.70 C402.55 93.08 402.87 91.62 403.20 90.00 C403.53 88.38 403.85 86.70 404.20 85.00 C404.55 83.30 404.92 81.50 405.30 79.80 C405.68 78.10 406.15 76.43 406.50 74.80 C406.85 73.17 407.05 71.58 407.40 70.00 C407.75 68.42 408.12 66.93 408.60 65.30 C409.08 63.67 409.62 60.35 410.30 60.20 C410.98 60.05 411.82 62.95 412.70 64.40 C413.58 65.85 415.02 67.37 415.60 68.90 C416.18 70.43 415.95 72.03 416.20 73.60 C416.45 75.17 416.85 76.68 417.10 78.30 C417.35 79.92 417.53 81.62 417.70 83.30 C417.87 84.98 417.92 86.73 418.10 88.40 C418.28 90.07 418.55 91.57 418.80 93.30 C419.05 95.03 419.18 96.13 419.60 98.80 C420.02 101.47 420.72 106.17 421.30 109.30 C421.88 112.43 422.50 114.85 423.10 117.60 C423.70 120.35 424.12 123.80 424.90 125.80 C425.68 127.80 426.92 128.85 427.80 129.60 C428.68 130.35 429.22 130.53 430.20 130.30 C431.18 130.07 432.62 129.05 433.70 128.20 C434.78 127.35 435.87 125.97 436.70 125.20 C437.53 124.43 438.02 123.30 438.70 123.60 C439.38 123.90 439.85 126.00 440.80 127.00 C441.75 128.00 442.98 129.20 444.40 129.60 C445.82 130.00 447.68 129.23 449.30 129.40 C450.92 129.57 452.65 130.45 454.10 130.60 C455.55 130.75 456.72 130.22 458.00 130.30 C459.28 130.38 460.52 131.05 461.80 131.10 C463.08 131.15 464.25 130.50 465.70 130.60 C467.15 130.70 468.90 131.55 470.50 131.70 C472.10 131.85 473.87 131.37 475.30 131.50 C476.73 131.63 477.77 132.32 479.10 132.50 C480.43 132.68 481.23 132.52 483.30 132.60 C485.37 132.68 488.35 132.83 491.50 133.00 C494.65 133.17 498.50 133.43 502.20 133.60 C505.90 133.77 511.78 133.93 513.70 134.00" fill="none" stroke="#6a6a6a" stroke-width="1.20" stroke-dasharray="3.0 2.1" stroke-linejoin="round"/>
<line x1="379.00" y1="127.00" x2="379.00" y2="135.30" stroke="#000" stroke-width="2.20"/>
<path d="M378.40 127.00 C378.48 128.00 378.53 131.82 378.90 133.00 C379.27 134.18 379.17 133.93 380.60 134.10 C382.03 134.27 385.38 134.08 387.50 134.00 C389.62 133.92 391.37 133.75 393.30 133.60 C395.23 133.45 397.18 133.28 399.10 133.10 C401.02 132.92 403.08 132.73 404.80 132.50 C406.52 132.27 407.85 131.90 409.40 131.70 C410.95 131.50 412.55 131.23 414.10 131.30 C415.65 131.37 417.17 132.15 418.70 132.10 C420.23 132.05 422.15 131.32 423.30 131.00 C424.45 130.68 424.73 130.63 425.60 130.20 C426.47 129.77 427.63 129.12 428.50 128.40 C429.37 127.68 430.17 126.80 430.80 125.90 C431.43 125.00 431.78 123.40 432.30 123.00 C432.82 122.60 433.23 124.00 433.90 123.50 C434.57 123.00 435.42 121.10 436.30 120.00 C437.18 118.90 438.32 117.42 439.20 116.90 C440.08 116.38 440.95 116.95 441.60 116.90 C442.25 116.85 442.45 116.17 443.10 116.60 C443.75 117.03 444.70 118.53 445.50 119.50 C446.30 120.47 447.10 122.00 447.90 122.40 C448.70 122.80 449.50 122.07 450.30 121.90 C451.10 121.73 451.90 121.88 452.70 121.40 C453.50 120.92 454.30 119.72 455.10 119.00 C455.90 118.28 456.87 118.13 457.50 117.10 C458.13 116.07 458.35 114.08 458.90 112.80 C459.45 111.52 460.32 110.77 460.80 109.40 C461.28 108.03 461.52 106.25 461.80 104.60 C462.08 102.95 462.15 100.98 462.50 99.50 C462.85 98.02 463.38 96.77 463.90 95.70 C464.42 94.63 465.17 94.27 465.60 93.10 C466.03 91.93 466.23 90.33 466.50 88.70 C466.77 87.07 466.98 84.93 467.20 83.30 C467.42 81.67 467.47 80.00 467.80 78.90 C468.13 77.80 468.70 77.52 469.20 76.70 C469.70 75.88 470.37 75.03 470.80 74.00 C471.23 72.97 471.40 71.60 471.80 70.50 C472.20 69.40 472.83 68.58 473.20 67.40 C473.57 66.22 473.57 64.37 474.00 63.40 C474.43 62.43 475.20 61.82 475.80 61.60 C476.40 61.38 477.05 61.65 477.60 62.10 C478.15 62.55 478.70 63.12 479.10 64.30 C479.50 65.48 479.67 67.65 480.00 69.20 C480.33 70.75 480.77 72.13 481.10 73.60 C481.43 75.07 481.70 76.38 482.00 78.00 C482.30 79.62 482.60 81.38 482.90 83.30 C483.20 85.22 483.55 87.55 483.80 89.50 C484.05 91.45 484.15 92.70 484.40 95.00 C484.65 97.30 484.93 100.55 485.30 103.30 C485.67 106.05 486.12 108.75 486.60 111.50 C487.08 114.25 487.58 117.32 488.20 119.80 C488.82 122.28 489.60 124.75 490.30 126.40 C491.00 128.05 491.65 128.73 492.40 129.70 C493.15 130.67 494.05 131.62 494.80 132.20 C495.55 132.78 495.80 133.03 496.90 133.20 C498.00 133.37 499.82 133.17 501.40 133.20 C502.98 133.23 504.88 133.18 506.40 133.40 C507.92 133.62 509.23 134.23 510.50 134.50 C511.77 134.77 513.42 134.92 514.00 135.00" fill="none" stroke="#000" stroke-width="1.50" stroke-linejoin="round" stroke-linecap="round"/>
<path d="M377.90 31.40 H515.20" stroke="#555555" stroke-width="1.15" fill="none"/>
<path d="M514.60 31.40 V135.30" stroke="#858585" stroke-width="1.15" fill="none"/>
<path d="M378.50 135.30 H515.20" stroke="#8a8a8a" stroke-width="1.15" fill="none"/>
<path d="M378.50 30.80 V135.90" stroke="#4a4a4a" stroke-width="1.15" fill="none"/>
<path d="M420.40 37.80 H457.30 M420.40 33.20 V42.40 M457.30 33.20 V42.40" stroke="#111" stroke-width="1.3" fill="none"/>
<text x="424.10" y="48.00" font-size="10.2" font-weight="bold" stroke="#000" stroke-width="0.25" textLength="8.3" lengthAdjust="spacingAndGlyphs">M</text>
<path d="M435.21 48.00 L437.13 48.00 L437.13 40.70 L435.61 40.70 L435.21 41.32 L434.40 41.88 L433.09 42.13 L433.09 43.36 L435.21 43.16 Z" fill="#000" stroke="#000" stroke-width="0.25" stroke-linejoin="round"/>
<path d="M457.30 48.60 H495.20 M457.30 44.00 V53.20 M495.20 44.00 V53.20" stroke="#666" stroke-width="1.3" fill="none"/>
<text x="478.60" y="47.00" font-size="10.2" font-weight="bold" stroke="#000" stroke-width="0.25" textLength="15.3" lengthAdjust="spacingAndGlyphs">M2</text>
<text x="441.80" y="26.80" font-size="15.1" font-weight="bold" stroke="#000" stroke-width="0.3" textLength="70.4" lengthAdjust="spacingAndGlyphs">Cvx + Thr</text>
<text x="405.70" y="157.00" font-size="13" font-weight="bold" stroke="#000" stroke-width="0.3" textLength="89.3" lengthAdjust="spacingAndGlyphs">FITC - anti Fbg</text>
<line x1="105.20" y1="311.50" x2="107.60" y2="311.50" stroke="#333" stroke-width="0.9"/>
<line x1="106.40" y1="309.60" x2="107.60" y2="309.60" stroke="#333" stroke-width="0.9"/>
<line x1="106.40" y1="307.69" x2="107.60" y2="307.69" stroke="#333" stroke-width="0.9"/>
<line x1="106.40" y1="305.79" x2="107.60" y2="305.79" stroke="#333" stroke-width="0.9"/>
<line x1="106.40" y1="303.88" x2="107.60" y2="303.88" stroke="#333" stroke-width="0.9"/>
<line x1="106.40" y1="301.98" x2="107.60" y2="301.98" stroke="#333" stroke-width="0.9"/>
<line x1="106.40" y1="300.07" x2="107.60" y2="300.07" stroke="#333" stroke-width="0.9"/>
<line x1="106.40" y1="298.17" x2="107.60" y2="298.17" stroke="#333" stroke-width="0.9"/>
<line x1="106.40" y1="296.27" x2="107.60" y2="296.27" stroke="#333" stroke-width="0.9"/>
<line x1="106.40" y1="294.36" x2="107.60" y2="294.36" stroke="#333" stroke-width="0.9"/>
<line x1="105.20" y1="292.46" x2="107.60" y2="292.46" stroke="#333" stroke-width="0.9"/>
<line x1="106.40" y1="290.55" x2="107.60" y2="290.55" stroke="#333" stroke-width="0.9"/>
<line x1="106.40" y1="288.65" x2="107.60" y2="288.65" stroke="#333" stroke-width="0.9"/>
<line x1="106.40" y1="286.74" x2="107.60" y2="286.74" stroke="#333" stroke-width="0.9"/>
<line x1="106.40" y1="284.84" x2="107.60" y2="284.84" stroke="#333" stroke-width="0.9"/>
<line x1="106.40" y1="282.94" x2="107.60" y2="282.94" stroke="#333" stroke-width="0.9"/>
<line x1="106.40" y1="281.03" x2="107.60" y2="281.03" stroke="#333" stroke-width="0.9"/>
<line x1="106.40" y1="279.13" x2="107.60" y2="279.13" stroke="#333" stroke-width="0.9"/>
<line x1="106.40" y1="277.22" x2="107.60" y2="277.22" stroke="#333" stroke-width="0.9"/>
<line x1="106.40" y1="275.32" x2="107.60" y2="275.32" stroke="#333" stroke-width="0.9"/>
<line x1="105.20" y1="273.41" x2="107.60" y2="273.41" stroke="#333" stroke-width="0.9"/>
<line x1="106.40" y1="271.51" x2="107.60" y2="271.51" stroke="#333" stroke-width="0.9"/>
<line x1="106.40" y1="269.61" x2="107.60" y2="269.61" stroke="#333" stroke-width="0.9"/>
<line x1="106.40" y1="267.70" x2="107.60" y2="267.70" stroke="#333" stroke-width="0.9"/>
<line x1="106.40" y1="265.80" x2="107.60" y2="265.80" stroke="#333" stroke-width="0.9"/>
<line x1="106.40" y1="263.89" x2="107.60" y2="263.89" stroke="#333" stroke-width="0.9"/>
<line x1="106.40" y1="261.99" x2="107.60" y2="261.99" stroke="#333" stroke-width="0.9"/>
<line x1="106.40" y1="260.09" x2="107.60" y2="260.09" stroke="#333" stroke-width="0.9"/>
<line x1="106.40" y1="258.18" x2="107.60" y2="258.18" stroke="#333" stroke-width="0.9"/>
<line x1="106.40" y1="256.28" x2="107.60" y2="256.28" stroke="#333" stroke-width="0.9"/>
<line x1="105.20" y1="254.37" x2="107.60" y2="254.37" stroke="#333" stroke-width="0.9"/>
<line x1="106.40" y1="252.47" x2="107.60" y2="252.47" stroke="#333" stroke-width="0.9"/>
<line x1="106.40" y1="250.56" x2="107.60" y2="250.56" stroke="#333" stroke-width="0.9"/>
<line x1="106.40" y1="248.66" x2="107.60" y2="248.66" stroke="#333" stroke-width="0.9"/>
<line x1="106.40" y1="246.76" x2="107.60" y2="246.76" stroke="#333" stroke-width="0.9"/>
<line x1="106.40" y1="244.85" x2="107.60" y2="244.85" stroke="#333" stroke-width="0.9"/>
<line x1="106.40" y1="242.95" x2="107.60" y2="242.95" stroke="#333" stroke-width="0.9"/>
<line x1="106.40" y1="241.04" x2="107.60" y2="241.04" stroke="#333" stroke-width="0.9"/>
<line x1="106.40" y1="239.14" x2="107.60" y2="239.14" stroke="#333" stroke-width="0.9"/>
<line x1="106.40" y1="237.23" x2="107.60" y2="237.23" stroke="#333" stroke-width="0.9"/>
<line x1="105.20" y1="235.33" x2="107.60" y2="235.33" stroke="#333" stroke-width="0.9"/>
<line x1="106.40" y1="233.43" x2="107.60" y2="233.43" stroke="#333" stroke-width="0.9"/>
<line x1="106.40" y1="231.52" x2="107.60" y2="231.52" stroke="#333" stroke-width="0.9"/>
<line x1="106.40" y1="229.62" x2="107.60" y2="229.62" stroke="#333" stroke-width="0.9"/>
<line x1="106.40" y1="227.71" x2="107.60" y2="227.71" stroke="#333" stroke-width="0.9"/>
<line x1="106.40" y1="225.81" x2="107.60" y2="225.81" stroke="#333" stroke-width="0.9"/>
<line x1="106.40" y1="223.90" x2="107.60" y2="223.90" stroke="#333" stroke-width="0.9"/>
<line x1="106.40" y1="222.00" x2="107.60" y2="222.00" stroke="#333" stroke-width="0.9"/>
<line x1="106.40" y1="220.10" x2="107.60" y2="220.10" stroke="#333" stroke-width="0.9"/>
<line x1="106.40" y1="218.19" x2="107.60" y2="218.19" stroke="#333" stroke-width="0.9"/>
<line x1="105.20" y1="216.29" x2="107.60" y2="216.29" stroke="#333" stroke-width="0.9"/>
<line x1="106.40" y1="214.38" x2="107.60" y2="214.38" stroke="#333" stroke-width="0.9"/>
<line x1="106.40" y1="212.48" x2="107.60" y2="212.48" stroke="#333" stroke-width="0.9"/>
<line x1="106.40" y1="210.57" x2="107.60" y2="210.57" stroke="#333" stroke-width="0.9"/>
<line x1="106.40" y1="208.67" x2="107.60" y2="208.67" stroke="#333" stroke-width="0.9"/>
<line x1="106.40" y1="206.77" x2="107.60" y2="206.77" stroke="#333" stroke-width="0.9"/>
<text transform="translate(102.80 311.50) rotate(-90)" font-size="5.60" text-anchor="middle" fill="#1a1a1a">0</text>
<text transform="translate(102.80 292.46) rotate(-90)" font-size="5.60" text-anchor="middle" fill="#1a1a1a">40</text>
<text transform="translate(102.80 273.41) rotate(-90)" font-size="5.60" text-anchor="middle" fill="#1a1a1a">80</text>
<text transform="translate(102.80 254.37) rotate(-90)" font-size="5.60" text-anchor="middle" fill="#1a1a1a">120</text>
<text transform="translate(102.80 235.33) rotate(-90)" font-size="5.60" text-anchor="middle" fill="#1a1a1a">160</text>
<text transform="translate(102.80 216.29) rotate(-90)" font-size="5.60" text-anchor="middle" fill="#1a1a1a">200</text>
<text transform="translate(97.80 259.90) rotate(-90)" font-size="5.80" text-anchor="middle" fill="#1a1a1a">Counts</text>
<line x1="118.09" y1="311.50" x2="118.09" y2="312.90" stroke="#333" stroke-width="0.9"/>
<line x1="124.23" y1="311.50" x2="124.23" y2="312.90" stroke="#333" stroke-width="0.9"/>
<line x1="128.58" y1="311.50" x2="128.58" y2="312.90" stroke="#333" stroke-width="0.9"/>
<line x1="131.96" y1="311.50" x2="131.96" y2="312.90" stroke="#333" stroke-width="0.9"/>
<line x1="134.72" y1="311.50" x2="134.72" y2="312.90" stroke="#333" stroke-width="0.9"/>
<line x1="137.05" y1="311.50" x2="137.05" y2="312.90" stroke="#333" stroke-width="0.9"/>
<line x1="139.07" y1="311.50" x2="139.07" y2="312.90" stroke="#333" stroke-width="0.9"/>
<line x1="140.86" y1="311.50" x2="140.86" y2="312.90" stroke="#333" stroke-width="0.9"/>
<line x1="152.94" y1="311.50" x2="152.94" y2="312.90" stroke="#333" stroke-width="0.9"/>
<line x1="159.08" y1="311.50" x2="159.08" y2="312.90" stroke="#333" stroke-width="0.9"/>
<line x1="163.43" y1="311.50" x2="163.43" y2="312.90" stroke="#333" stroke-width="0.9"/>
<line x1="166.81" y1="311.50" x2="166.81" y2="312.90" stroke="#333" stroke-width="0.9"/>
<line x1="169.57" y1="311.50" x2="169.57" y2="312.90" stroke="#333" stroke-width="0.9"/>
<line x1="171.90" y1="311.50" x2="171.90" y2="312.90" stroke="#333" stroke-width="0.9"/>
<line x1="173.92" y1="311.50" x2="173.92" y2="312.90" stroke="#333" stroke-width="0.9"/>
<line x1="175.71" y1="311.50" x2="175.71" y2="312.90" stroke="#333" stroke-width="0.9"/>
<line x1="187.79" y1="311.50" x2="187.79" y2="312.90" stroke="#333" stroke-width="0.9"/>
<line x1="193.93" y1="311.50" x2="193.93" y2="312.90" stroke="#333" stroke-width="0.9"/>
<line x1="198.28" y1="311.50" x2="198.28" y2="312.90" stroke="#333" stroke-width="0.9"/>
<line x1="201.66" y1="311.50" x2="201.66" y2="312.90" stroke="#333" stroke-width="0.9"/>
<line x1="204.42" y1="311.50" x2="204.42" y2="312.90" stroke="#333" stroke-width="0.9"/>
<line x1="206.75" y1="311.50" x2="206.75" y2="312.90" stroke="#333" stroke-width="0.9"/>
<line x1="208.77" y1="311.50" x2="208.77" y2="312.90" stroke="#333" stroke-width="0.9"/>
<line x1="210.56" y1="311.50" x2="210.56" y2="312.90" stroke="#333" stroke-width="0.9"/>
<line x1="222.64" y1="311.50" x2="222.64" y2="312.90" stroke="#333" stroke-width="0.9"/>
<line x1="228.78" y1="311.50" x2="228.78" y2="312.90" stroke="#333" stroke-width="0.9"/>
<line x1="233.13" y1="311.50" x2="233.13" y2="312.90" stroke="#333" stroke-width="0.9"/>
<line x1="236.51" y1="311.50" x2="236.51" y2="312.90" stroke="#333" stroke-width="0.9"/>
<line x1="239.27" y1="311.50" x2="239.27" y2="312.90" stroke="#333" stroke-width="0.9"/>
<line x1="241.60" y1="311.50" x2="241.60" y2="312.90" stroke="#333" stroke-width="0.9"/>
<line x1="243.62" y1="311.50" x2="243.62" y2="312.90" stroke="#333" stroke-width="0.9"/>
<line x1="245.41" y1="311.50" x2="245.41" y2="312.90" stroke="#333" stroke-width="0.9"/>
<line x1="107.60" y1="311.50" x2="107.60" y2="313.90" stroke="#333" stroke-width="0.9"/>
<text x="104.30" y="321.10" font-size="5.60" fill="#1a1a1a" textLength="4.80" lengthAdjust="spacingAndGlyphs">10</text>
<text x="109.30" y="318.58" font-size="4.48" fill="#1a1a1a">0</text>
<line x1="142.45" y1="311.50" x2="142.45" y2="313.90" stroke="#333" stroke-width="0.9"/>
<text x="139.15" y="321.10" font-size="5.60" fill="#1a1a1a" textLength="4.80" lengthAdjust="spacingAndGlyphs">10</text>
<text x="144.15" y="318.58" font-size="4.48" fill="#1a1a1a">1</text>
<line x1="177.30" y1="311.50" x2="177.30" y2="313.90" stroke="#333" stroke-width="0.9"/>
<text x="174.00" y="321.10" font-size="5.60" fill="#1a1a1a" textLength="4.80" lengthAdjust="spacingAndGlyphs">10</text>
<text x="179.00" y="318.58" font-size="4.48" fill="#1a1a1a">2</text>
<line x1="212.15" y1="311.50" x2="212.15" y2="313.90" stroke="#333" stroke-width="0.9"/>
<text x="208.85" y="321.10" font-size="5.60" fill="#1a1a1a" textLength="4.80" lengthAdjust="spacingAndGlyphs">10</text>
<text x="213.85" y="318.58" font-size="4.48" fill="#1a1a1a">3</text>
<line x1="247.00" y1="311.50" x2="247.00" y2="313.90" stroke="#333" stroke-width="0.9"/>
<text x="243.70" y="321.10" font-size="5.60" fill="#1a1a1a" textLength="4.80" lengthAdjust="spacingAndGlyphs">10</text>
<text x="248.70" y="318.58" font-size="4.48" fill="#1a1a1a">4</text>
<path d="M108.80 301.00 C109.17 300.75 110.07 300.07 111.00 299.50 C111.93 298.93 113.30 298.33 114.40 297.60 C115.50 296.87 116.38 295.78 117.60 295.10 C118.82 294.42 120.42 294.25 121.70 293.50 C122.98 292.75 124.25 291.80 125.30 290.60 C126.35 289.40 127.03 287.60 128.00 286.30 C128.97 285.00 130.22 284.27 131.10 282.80 C131.98 281.33 132.48 278.98 133.30 277.50 C134.12 276.02 135.33 275.30 136.00 273.90 C136.67 272.50 136.87 270.72 137.30 269.10 C137.73 267.48 138.10 265.90 138.60 264.20 C139.10 262.50 139.82 260.60 140.30 258.90 C140.78 257.20 141.10 255.55 141.50 254.00 C141.90 252.45 142.23 251.12 142.70 249.60 C143.17 248.08 143.83 246.53 144.30 244.90 C144.77 243.27 145.10 241.43 145.50 239.80 C145.90 238.17 146.25 236.55 146.70 235.10 C147.15 233.65 147.75 232.68 148.20 231.10 C148.65 229.52 148.93 227.25 149.40 225.60 C149.87 223.95 150.50 222.08 151.00 221.20 C151.50 220.32 151.88 220.37 152.40 220.30 C152.92 220.23 153.55 220.05 154.10 220.80 C154.65 221.55 155.10 223.40 155.70 224.80 C156.30 226.20 157.03 227.42 157.70 229.20 C158.37 230.98 159.25 233.67 159.70 235.50 C160.15 237.33 160.22 238.63 160.40 240.20 C160.58 241.77 160.67 243.33 160.80 244.90 C160.93 246.47 161.07 248.08 161.20 249.60 C161.33 251.12 161.43 252.43 161.60 254.00 C161.77 255.57 162.03 257.30 162.20 259.00 C162.37 260.70 162.35 261.40 162.60 264.20 C162.85 267.00 163.33 271.95 163.70 275.80 C164.07 279.65 164.33 283.47 164.80 287.30 C165.27 291.13 165.83 295.73 166.50 298.80 C167.17 301.87 167.63 304.15 168.80 305.70 C169.97 307.25 171.00 307.52 173.50 308.10 C176.00 308.68 179.20 309.02 183.80 309.20 C188.40 309.38 197.45 309.00 201.10 309.20 C204.75 309.40 203.38 310.10 205.70 310.40 C208.02 310.70 210.12 310.85 215.00 311.00 C219.88 311.15 231.67 311.25 235.00 311.30" fill="none" stroke="#6a6a6a" stroke-width="1.20" stroke-dasharray="3.0 2.1" stroke-linejoin="round"/>
<line x1="108.10" y1="289.20" x2="108.10" y2="311.50" stroke="#000" stroke-width="2.20"/>
<path d="M107.60 289.20 C107.65 292.00 107.77 303.05 107.90 306.00 C108.03 308.95 107.93 306.55 108.40 306.90 C108.87 307.25 109.75 307.97 110.70 308.10 C111.65 308.23 112.95 307.90 114.10 307.70 C115.25 307.50 116.65 307.40 117.60 306.90 C118.55 306.40 119.05 305.17 119.80 304.70 C120.55 304.23 121.33 304.10 122.10 304.10 C122.87 304.10 123.63 304.93 124.40 304.70 C125.17 304.47 125.93 303.28 126.70 302.70 C127.47 302.12 128.15 301.73 129.00 301.20 C129.85 300.67 130.95 300.07 131.80 299.50 C132.65 298.93 133.47 298.47 134.10 297.80 C134.73 297.13 135.12 295.75 135.60 295.50 C136.08 295.25 136.40 296.68 137.00 296.30 C137.60 295.92 138.45 294.47 139.20 293.20 C139.95 291.93 140.83 289.97 141.50 288.70 C142.17 287.43 142.62 286.47 143.20 285.60 C143.78 284.73 144.42 284.70 145.00 283.50 C145.58 282.30 146.03 280.68 146.70 278.40 C147.37 276.12 148.25 272.18 149.00 269.80 C149.75 267.42 150.68 265.50 151.20 264.10 C151.72 262.70 151.67 262.80 152.10 261.40 C152.53 260.00 153.32 257.80 153.80 255.70 C154.28 253.60 154.62 250.90 155.00 248.80 C155.38 246.70 155.72 244.82 156.10 243.10 C156.48 241.38 156.92 239.73 157.30 238.50 C157.68 237.27 157.83 236.55 158.40 235.70 C158.97 234.85 160.03 234.27 160.70 233.40 C161.37 232.53 161.93 230.22 162.40 230.50 C162.87 230.78 163.15 233.18 163.50 235.10 C163.85 237.02 164.20 240.28 164.50 242.00 C164.80 243.72 164.88 244.07 165.30 245.40 C165.72 246.73 166.53 248.28 167.00 250.00 C167.47 251.72 167.70 253.72 168.10 255.70 C168.50 257.68 168.80 259.90 169.40 261.90 C170.00 263.90 170.93 265.77 171.70 267.70 C172.47 269.63 173.23 272.73 174.00 273.50 C174.77 274.27 175.62 271.73 176.30 272.30 C176.98 272.87 177.52 275.65 178.10 276.90 C178.68 278.15 179.13 279.12 179.80 279.80 C180.47 280.48 181.33 280.42 182.10 281.00 C182.87 281.58 183.63 282.53 184.40 283.30 C185.17 284.07 186.03 285.28 186.70 285.60 C187.37 285.92 187.72 284.82 188.40 285.20 C189.08 285.58 190.02 286.78 190.80 287.90 C191.58 289.02 192.33 290.27 193.10 291.90 C193.87 293.53 194.53 296.25 195.40 297.70 C196.27 299.15 197.43 299.65 198.30 300.60 C199.17 301.55 199.75 302.35 200.60 303.40 C201.45 304.45 202.55 305.93 203.40 306.90 C204.25 307.87 204.73 308.62 205.70 309.20 C206.67 309.78 207.65 310.10 209.20 310.40 C210.75 310.70 211.53 310.87 215.00 311.00 C218.47 311.13 224.75 311.13 230.00 311.20 C235.25 311.27 243.75 311.37 246.50 311.40" fill="none" stroke="#000" stroke-width="1.50" stroke-linejoin="round" stroke-linecap="round"/>
<path d="M107.00 205.10 H247.60" stroke="#555555" stroke-width="1.15" fill="none"/>
<path d="M247.00 205.10 V311.50" stroke="#858585" stroke-width="1.15" fill="none"/>
<path d="M107.60 311.50 H247.60" stroke="#8a8a8a" stroke-width="1.15" fill="none"/>
<path d="M107.60 204.50 V312.10" stroke="#4a4a4a" stroke-width="1.15" fill="none"/>
<path d="M151.10 215.30 H176.00 M151.10 210.70 V219.90 M176.00 210.70 V219.90" stroke="#111" stroke-width="1.3" fill="none"/>
<text x="158.60" y="213.80" font-size="10.2" font-weight="bold" stroke="#000" stroke-width="0.25" textLength="8.3" lengthAdjust="spacingAndGlyphs">M</text>
<path d="M169.71 213.80 L171.63 213.80 L171.63 206.50 L170.11 206.50 L169.71 207.12 L168.90 207.68 L167.59 207.94 L167.59 209.16 L169.71 208.96 Z" fill="#000" stroke="#000" stroke-width="0.25" stroke-linejoin="round"/>
<path d="M176.50 227.70 H214.00 M176.50 223.10 V232.30 M214.00 223.10 V232.30" stroke="#666" stroke-width="1.3" fill="none"/>
<text x="195.40" y="225.80" font-size="10.2" font-weight="bold" stroke="#000" stroke-width="0.25" textLength="15.3" lengthAdjust="spacingAndGlyphs">M2</text>
<text x="177.30" y="201.80" font-size="15.1" font-weight="bold" stroke="#000" stroke-width="0.3" textLength="71.0" lengthAdjust="spacingAndGlyphs">Thrombin</text>
<text x="133.20" y="334.00" font-size="13" font-weight="bold" stroke="#000" stroke-width="0.3" textLength="95.3" lengthAdjust="spacingAndGlyphs">FITC - anti VWF</text>
<line x1="281.50" y1="311.50" x2="283.90" y2="311.50" stroke="#333" stroke-width="0.9"/>
<line x1="282.70" y1="309.60" x2="283.90" y2="309.60" stroke="#333" stroke-width="0.9"/>
<line x1="282.70" y1="307.69" x2="283.90" y2="307.69" stroke="#333" stroke-width="0.9"/>
<line x1="282.70" y1="305.79" x2="283.90" y2="305.79" stroke="#333" stroke-width="0.9"/>
<line x1="282.70" y1="303.88" x2="283.90" y2="303.88" stroke="#333" stroke-width="0.9"/>
<line x1="282.70" y1="301.98" x2="283.90" y2="301.98" stroke="#333" stroke-width="0.9"/>
<line x1="282.70" y1="300.07" x2="283.90" y2="300.07" stroke="#333" stroke-width="0.9"/>
<line x1="282.70" y1="298.17" x2="283.90" y2="298.17" stroke="#333" stroke-width="0.9"/>
<line x1="282.70" y1="296.27" x2="283.90" y2="296.27" stroke="#333" stroke-width="0.9"/>
<line x1="282.70" y1="294.36" x2="283.90" y2="294.36" stroke="#333" stroke-width="0.9"/>
<line x1="281.50" y1="292.46" x2="283.90" y2="292.46" stroke="#333" stroke-width="0.9"/>
<line x1="282.70" y1="290.55" x2="283.90" y2="290.55" stroke="#333" stroke-width="0.9"/>
<line x1="282.70" y1="288.65" x2="283.90" y2="288.65" stroke="#333" stroke-width="0.9"/>
<line x1="282.70" y1="286.74" x2="283.90" y2="286.74" stroke="#333" stroke-width="0.9"/>
<line x1="282.70" y1="284.84" x2="283.90" y2="284.84" stroke="#333" stroke-width="0.9"/>
<line x1="282.70" y1="282.94" x2="283.90" y2="282.94" stroke="#333" stroke-width="0.9"/>
<line x1="282.70" y1="281.03" x2="283.90" y2="281.03" stroke="#333" stroke-width="0.9"/>
<line x1="282.70" y1="279.13" x2="283.90" y2="279.13" stroke="#333" stroke-width="0.9"/>
<line x1="282.70" y1="277.22" x2="283.90" y2="277.22" stroke="#333" stroke-width="0.9"/>
<line x1="282.70" y1="275.32" x2="283.90" y2="275.32" stroke="#333" stroke-width="0.9"/>
<line x1="281.50" y1="273.41" x2="283.90" y2="273.41" stroke="#333" stroke-width="0.9"/>
<line x1="282.70" y1="271.51" x2="283.90" y2="271.51" stroke="#333" stroke-width="0.9"/>
<line x1="282.70" y1="269.61" x2="283.90" y2="269.61" stroke="#333" stroke-width="0.9"/>
<line x1="282.70" y1="267.70" x2="283.90" y2="267.70" stroke="#333" stroke-width="0.9"/>
<line x1="282.70" y1="265.80" x2="283.90" y2="265.80" stroke="#333" stroke-width="0.9"/>
<line x1="282.70" y1="263.89" x2="283.90" y2="263.89" stroke="#333" stroke-width="0.9"/>
<line x1="282.70" y1="261.99" x2="283.90" y2="261.99" stroke="#333" stroke-width="0.9"/>
<line x1="282.70" y1="260.09" x2="283.90" y2="260.09" stroke="#333" stroke-width="0.9"/>
<line x1="282.70" y1="258.18" x2="283.90" y2="258.18" stroke="#333" stroke-width="0.9"/>
<line x1="282.70" y1="256.28" x2="283.90" y2="256.28" stroke="#333" stroke-width="0.9"/>
<line x1="281.50" y1="254.37" x2="283.90" y2="254.37" stroke="#333" stroke-width="0.9"/>
<line x1="282.70" y1="252.47" x2="283.90" y2="252.47" stroke="#333" stroke-width="0.9"/>
<line x1="282.70" y1="250.56" x2="283.90" y2="250.56" stroke="#333" stroke-width="0.9"/>
<line x1="282.70" y1="248.66" x2="283.90" y2="248.66" stroke="#333" stroke-width="0.9"/>
<line x1="282.70" y1="246.76" x2="283.90" y2="246.76" stroke="#333" stroke-width="0.9"/>
<line x1="282.70" y1="244.85" x2="283.90" y2="244.85" stroke="#333" stroke-width="0.9"/>
<line x1="282.70" y1="242.95" x2="283.90" y2="242.95" stroke="#333" stroke-width="0.9"/>
<line x1="282.70" y1="241.04" x2="283.90" y2="241.04" stroke="#333" stroke-width="0.9"/>
<line x1="282.70" y1="239.14" x2="283.90" y2="239.14" stroke="#333" stroke-width="0.9"/>
<line x1="282.70" y1="237.23" x2="283.90" y2="237.23" stroke="#333" stroke-width="0.9"/>
<line x1="281.50" y1="235.33" x2="283.90" y2="235.33" stroke="#333" stroke-width="0.9"/>
<line x1="282.70" y1="233.43" x2="283.90" y2="233.43" stroke="#333" stroke-width="0.9"/>
<line x1="282.70" y1="231.52" x2="283.90" y2="231.52" stroke="#333" stroke-width="0.9"/>
<line x1="282.70" y1="229.62" x2="283.90" y2="229.62" stroke="#333" stroke-width="0.9"/>
<line x1="282.70" y1="227.71" x2="283.90" y2="227.71" stroke="#333" stroke-width="0.9"/>
<line x1="282.70" y1="225.81" x2="283.90" y2="225.81" stroke="#333" stroke-width="0.9"/>
<line x1="282.70" y1="223.90" x2="283.90" y2="223.90" stroke="#333" stroke-width="0.9"/>
<line x1="282.70" y1="222.00" x2="283.90" y2="222.00" stroke="#333" stroke-width="0.9"/>
<line x1="282.70" y1="220.10" x2="283.90" y2="220.10" stroke="#333" stroke-width="0.9"/>
<line x1="282.70" y1="218.19" x2="283.90" y2="218.19" stroke="#333" stroke-width="0.9"/>
<line x1="281.50" y1="216.29" x2="283.90" y2="216.29" stroke="#333" stroke-width="0.9"/>
<line x1="282.70" y1="214.38" x2="283.90" y2="214.38" stroke="#333" stroke-width="0.9"/>
<line x1="282.70" y1="212.48" x2="283.90" y2="212.48" stroke="#333" stroke-width="0.9"/>
<line x1="282.70" y1="210.57" x2="283.90" y2="210.57" stroke="#333" stroke-width="0.9"/>
<line x1="282.70" y1="208.67" x2="283.90" y2="208.67" stroke="#333" stroke-width="0.9"/>
<line x1="282.70" y1="206.77" x2="283.90" y2="206.77" stroke="#333" stroke-width="0.9"/>
<text transform="translate(279.10 311.50) rotate(-90)" font-size="5.60" text-anchor="middle" fill="#1a1a1a">0</text>
<text transform="translate(279.10 292.46) rotate(-90)" font-size="5.60" text-anchor="middle" fill="#1a1a1a">40</text>
<text transform="translate(279.10 273.41) rotate(-90)" font-size="5.60" text-anchor="middle" fill="#1a1a1a">80</text>
<text transform="translate(279.10 254.37) rotate(-90)" font-size="5.60" text-anchor="middle" fill="#1a1a1a">120</text>
<text transform="translate(279.10 235.33) rotate(-90)" font-size="5.60" text-anchor="middle" fill="#1a1a1a">160</text>
<text transform="translate(279.10 216.29) rotate(-90)" font-size="5.60" text-anchor="middle" fill="#1a1a1a">200</text>
<text transform="translate(274.10 259.90) rotate(-90)" font-size="5.80" text-anchor="middle" fill="#1a1a1a">Counts</text>
<line x1="294.41" y1="311.50" x2="294.41" y2="312.90" stroke="#333" stroke-width="0.9"/>
<line x1="300.56" y1="311.50" x2="300.56" y2="312.90" stroke="#333" stroke-width="0.9"/>
<line x1="304.93" y1="311.50" x2="304.93" y2="312.90" stroke="#333" stroke-width="0.9"/>
<line x1="308.31" y1="311.50" x2="308.31" y2="312.90" stroke="#333" stroke-width="0.9"/>
<line x1="311.08" y1="311.50" x2="311.08" y2="312.90" stroke="#333" stroke-width="0.9"/>
<line x1="313.42" y1="311.50" x2="313.42" y2="312.90" stroke="#333" stroke-width="0.9"/>
<line x1="315.44" y1="311.50" x2="315.44" y2="312.90" stroke="#333" stroke-width="0.9"/>
<line x1="317.23" y1="311.50" x2="317.23" y2="312.90" stroke="#333" stroke-width="0.9"/>
<line x1="329.34" y1="311.50" x2="329.34" y2="312.90" stroke="#333" stroke-width="0.9"/>
<line x1="335.49" y1="311.50" x2="335.49" y2="312.90" stroke="#333" stroke-width="0.9"/>
<line x1="339.85" y1="311.50" x2="339.85" y2="312.90" stroke="#333" stroke-width="0.9"/>
<line x1="343.24" y1="311.50" x2="343.24" y2="312.90" stroke="#333" stroke-width="0.9"/>
<line x1="346.00" y1="311.50" x2="346.00" y2="312.90" stroke="#333" stroke-width="0.9"/>
<line x1="348.34" y1="311.50" x2="348.34" y2="312.90" stroke="#333" stroke-width="0.9"/>
<line x1="350.37" y1="311.50" x2="350.37" y2="312.90" stroke="#333" stroke-width="0.9"/>
<line x1="352.15" y1="311.50" x2="352.15" y2="312.90" stroke="#333" stroke-width="0.9"/>
<line x1="364.26" y1="311.50" x2="364.26" y2="312.90" stroke="#333" stroke-width="0.9"/>
<line x1="370.41" y1="311.50" x2="370.41" y2="312.90" stroke="#333" stroke-width="0.9"/>
<line x1="374.78" y1="311.50" x2="374.78" y2="312.90" stroke="#333" stroke-width="0.9"/>
<line x1="378.16" y1="311.50" x2="378.16" y2="312.90" stroke="#333" stroke-width="0.9"/>
<line x1="380.93" y1="311.50" x2="380.93" y2="312.90" stroke="#333" stroke-width="0.9"/>
<line x1="383.27" y1="311.50" x2="383.27" y2="312.90" stroke="#333" stroke-width="0.9"/>
<line x1="385.29" y1="311.50" x2="385.29" y2="312.90" stroke="#333" stroke-width="0.9"/>
<line x1="387.08" y1="311.50" x2="387.08" y2="312.90" stroke="#333" stroke-width="0.9"/>
<line x1="399.19" y1="311.50" x2="399.19" y2="312.90" stroke="#333" stroke-width="0.9"/>
<line x1="405.34" y1="311.50" x2="405.34" y2="312.90" stroke="#333" stroke-width="0.9"/>
<line x1="409.70" y1="311.50" x2="409.70" y2="312.90" stroke="#333" stroke-width="0.9"/>
<line x1="413.09" y1="311.50" x2="413.09" y2="312.90" stroke="#333" stroke-width="0.9"/>
<line x1="415.85" y1="311.50" x2="415.85" y2="312.90" stroke="#333" stroke-width="0.9"/>
<line x1="418.19" y1="311.50" x2="418.19" y2="312.90" stroke="#333" stroke-width="0.9"/>
<line x1="420.22" y1="311.50" x2="420.22" y2="312.90" stroke="#333" stroke-width="0.9"/>
<line x1="422.00" y1="311.50" x2="422.00" y2="312.90" stroke="#333" stroke-width="0.9"/>
<line x1="283.90" y1="311.50" x2="283.90" y2="313.90" stroke="#333" stroke-width="0.9"/>
<text x="280.60" y="321.10" font-size="5.60" fill="#1a1a1a" textLength="4.80" lengthAdjust="spacingAndGlyphs">10</text>
<text x="285.60" y="318.58" font-size="4.48" fill="#1a1a1a">0</text>
<line x1="318.82" y1="311.50" x2="318.82" y2="313.90" stroke="#333" stroke-width="0.9"/>
<text x="315.52" y="321.10" font-size="5.60" fill="#1a1a1a" textLength="4.80" lengthAdjust="spacingAndGlyphs">10</text>
<text x="320.52" y="318.58" font-size="4.48" fill="#1a1a1a">1</text>
<line x1="353.75" y1="311.50" x2="353.75" y2="313.90" stroke="#333" stroke-width="0.9"/>
<text x="350.45" y="321.10" font-size="5.60" fill="#1a1a1a" textLength="4.80" lengthAdjust="spacingAndGlyphs">10</text>
<text x="355.45" y="318.58" font-size="4.48" fill="#1a1a1a">2</text>
<line x1="388.68" y1="311.50" x2="388.68" y2="313.90" stroke="#333" stroke-width="0.9"/>
<text x="385.38" y="321.10" font-size="5.60" fill="#1a1a1a" textLength="4.80" lengthAdjust="spacingAndGlyphs">10</text>
<text x="390.38" y="318.58" font-size="4.48" fill="#1a1a1a">3</text>
<line x1="423.60" y1="311.50" x2="423.60" y2="313.90" stroke="#333" stroke-width="0.9"/>
<text x="420.30" y="321.10" font-size="5.60" fill="#1a1a1a" textLength="4.80" lengthAdjust="spacingAndGlyphs">10</text>
<text x="425.30" y="318.58" font-size="4.48" fill="#1a1a1a">4</text>
<path d="M285.10 301.00 C285.47 300.75 286.37 300.07 287.30 299.50 C288.23 298.93 289.60 298.33 290.70 297.60 C291.80 296.87 292.68 295.78 293.90 295.10 C295.12 294.42 296.72 294.25 298.00 293.50 C299.28 292.75 300.55 291.80 301.60 290.60 C302.65 289.40 303.33 287.60 304.30 286.30 C305.27 285.00 306.52 284.27 307.40 282.80 C308.28 281.33 308.78 278.98 309.60 277.50 C310.42 276.02 311.63 275.30 312.30 273.90 C312.97 272.50 313.17 270.72 313.60 269.10 C314.03 267.48 314.40 265.90 314.90 264.20 C315.40 262.50 316.12 260.60 316.60 258.90 C317.08 257.20 317.40 255.55 317.80 254.00 C318.20 252.45 318.53 251.12 319.00 249.60 C319.47 248.08 320.13 246.53 320.60 244.90 C321.07 243.27 321.40 241.43 321.80 239.80 C322.20 238.17 322.55 236.55 323.00 235.10 C323.45 233.65 324.05 232.68 324.50 231.10 C324.95 229.52 325.23 227.25 325.70 225.60 C326.17 223.95 326.80 222.08 327.30 221.20 C327.80 220.32 328.18 220.37 328.70 220.30 C329.22 220.23 329.85 220.05 330.40 220.80 C330.95 221.55 331.40 223.40 332.00 224.80 C332.60 226.20 333.33 227.42 334.00 229.20 C334.67 230.98 335.55 233.67 336.00 235.50 C336.45 237.33 336.52 238.63 336.70 240.20 C336.88 241.77 336.97 243.33 337.10 244.90 C337.23 246.47 337.37 248.08 337.50 249.60 C337.63 251.12 337.73 252.43 337.90 254.00 C338.07 255.57 338.33 257.30 338.50 259.00 C338.67 260.70 338.65 261.40 338.90 264.20 C339.15 267.00 339.63 271.95 340.00 275.80 C340.37 279.65 340.63 283.47 341.10 287.30 C341.57 291.13 342.13 295.73 342.80 298.80 C343.47 301.87 343.93 304.15 345.10 305.70 C346.27 307.25 347.30 307.52 349.80 308.10 C352.30 308.68 355.50 309.02 360.10 309.20 C364.70 309.38 373.75 309.00 377.40 309.20 C381.05 309.40 379.68 310.10 382.00 310.40 C384.32 310.70 386.42 310.85 391.30 311.00 C396.18 311.15 407.97 311.25 411.30 311.30" fill="none" stroke="#6a6a6a" stroke-width="1.20" stroke-dasharray="3.0 2.1" stroke-linejoin="round"/>
<line x1="284.40" y1="295.00" x2="284.40" y2="311.50" stroke="#000" stroke-width="2.20"/>
<path d="M283.80 295.00 C283.85 296.92 283.80 304.27 284.10 306.50 C284.40 308.73 284.98 308.20 285.60 308.40 C286.22 308.60 286.67 307.85 287.80 307.70 C288.93 307.55 290.87 307.50 292.40 307.50 C293.93 307.50 295.48 307.93 297.00 307.70 C298.52 307.47 299.98 306.42 301.50 306.10 C303.02 305.78 304.77 306.13 306.10 305.80 C307.43 305.47 308.35 304.87 309.50 304.10 C310.65 303.33 312.05 302.15 313.00 301.20 C313.95 300.25 314.48 298.58 315.20 298.40 C315.92 298.22 316.63 300.30 317.30 300.10 C317.97 299.90 318.40 298.05 319.20 297.20 C320.00 296.35 321.13 295.57 322.10 295.00 C323.07 294.43 324.23 294.57 325.00 293.80 C325.77 293.03 326.23 291.37 326.70 290.40 C327.17 289.43 327.35 288.70 327.80 288.00 C328.25 287.30 328.77 286.75 329.40 286.20 C330.03 285.65 330.98 285.93 331.60 284.70 C332.22 283.47 332.48 279.70 333.10 278.80 C333.72 277.90 334.57 279.42 335.30 279.30 C336.03 279.18 336.88 278.42 337.50 278.10 C338.12 277.78 338.38 276.78 339.00 277.40 C339.62 278.02 340.33 280.20 341.20 281.80 C342.07 283.40 343.33 285.90 344.20 287.00 C345.07 288.10 345.67 287.72 346.40 288.40 C347.13 289.08 347.75 291.10 348.60 291.10 C349.45 291.10 350.52 289.33 351.50 288.40 C352.48 287.47 353.52 286.85 354.50 285.50 C355.48 284.15 356.45 282.13 357.40 280.30 C358.35 278.47 359.33 277.47 360.20 274.50 C361.07 271.53 361.88 265.83 362.60 262.50 C363.32 259.17 363.90 257.08 364.50 254.50 C365.10 251.92 365.70 249.65 366.20 247.00 C366.70 244.35 366.92 240.55 367.50 238.60 C368.08 236.65 368.85 236.35 369.70 235.30 C370.55 234.25 371.77 232.28 372.60 232.30 C373.43 232.32 374.07 233.73 374.70 235.40 C375.33 237.07 375.82 239.70 376.40 242.30 C376.98 244.90 377.62 247.83 378.20 251.00 C378.78 254.17 379.33 257.85 379.90 261.30 C380.47 264.75 380.88 267.65 381.60 271.70 C382.32 275.75 383.33 281.57 384.20 285.60 C385.07 289.63 385.93 293.17 386.80 295.90 C387.67 298.63 388.53 300.12 389.40 302.00 C390.27 303.88 391.13 305.90 392.00 307.20 C392.87 308.50 393.30 309.23 394.60 309.80 C395.90 310.37 397.23 310.37 399.80 310.60 C402.37 310.83 406.13 311.07 410.00 311.20 C413.87 311.33 420.83 311.37 423.00 311.40" fill="none" stroke="#000" stroke-width="1.50" stroke-linejoin="round" stroke-linecap="round"/>
<path d="M283.30 205.10 H424.20" stroke="#555555" stroke-width="1.15" fill="none"/>
<path d="M423.60 205.10 V311.50" stroke="#858585" stroke-width="1.15" fill="none"/>
<path d="M283.90 311.50 H424.20" stroke="#8a8a8a" stroke-width="1.15" fill="none"/>
<path d="M283.90 204.50 V312.10" stroke="#4a4a4a" stroke-width="1.15" fill="none"/>
<path d="M326.90 216.00 H352.10 M326.90 211.40 V220.60 M352.10 211.40 V220.60" stroke="#111" stroke-width="1.3" fill="none"/>
<text x="334.60" y="213.80" font-size="10.2" font-weight="bold" stroke="#000" stroke-width="0.25" textLength="8.3" lengthAdjust="spacingAndGlyphs">M</text>
<path d="M345.71 213.80 L347.63 213.80 L347.63 206.50 L346.11 206.50 L345.71 207.12 L344.90 207.68 L343.59 207.94 L343.59 209.16 L345.71 208.96 Z" fill="#000" stroke="#000" stroke-width="0.25" stroke-linejoin="round"/>
<path d="M352.90 228.30 H390.40 M352.90 223.70 V232.90 M390.40 223.70 V232.90" stroke="#666" stroke-width="1.3" fill="none"/>
<text x="373.80" y="226.20" font-size="10.2" font-weight="bold" stroke="#000" stroke-width="0.25" textLength="15.3" lengthAdjust="spacingAndGlyphs">M2</text>
<text x="353.80" y="201.80" font-size="15.1" font-weight="bold" stroke="#000" stroke-width="0.3" textLength="71.0" lengthAdjust="spacingAndGlyphs">Cvx + Thr</text>
<text x="309.20" y="334.60" font-size="13" font-weight="bold" stroke="#000" stroke-width="0.3" textLength="94.7" lengthAdjust="spacingAndGlyphs">FITC - anti VWF</text>
<line x1="108.50" y1="484.20" x2="110.90" y2="484.20" stroke="#333" stroke-width="0.9"/>
<line x1="109.70" y1="480.06" x2="110.90" y2="480.06" stroke="#333" stroke-width="0.9"/>
<line x1="109.70" y1="475.93" x2="110.90" y2="475.93" stroke="#333" stroke-width="0.9"/>
<line x1="109.70" y1="471.79" x2="110.90" y2="471.79" stroke="#333" stroke-width="0.9"/>
<line x1="109.70" y1="467.66" x2="110.90" y2="467.66" stroke="#333" stroke-width="0.9"/>
<line x1="108.50" y1="463.52" x2="110.90" y2="463.52" stroke="#333" stroke-width="0.9"/>
<line x1="109.70" y1="459.38" x2="110.90" y2="459.38" stroke="#333" stroke-width="0.9"/>
<line x1="109.70" y1="455.25" x2="110.90" y2="455.25" stroke="#333" stroke-width="0.9"/>
<line x1="109.70" y1="451.11" x2="110.90" y2="451.11" stroke="#333" stroke-width="0.9"/>
<line x1="109.70" y1="446.98" x2="110.90" y2="446.98" stroke="#333" stroke-width="0.9"/>
<line x1="108.50" y1="442.84" x2="110.90" y2="442.84" stroke="#333" stroke-width="0.9"/>
<line x1="109.70" y1="438.70" x2="110.90" y2="438.70" stroke="#333" stroke-width="0.9"/>
<line x1="109.70" y1="434.57" x2="110.90" y2="434.57" stroke="#333" stroke-width="0.9"/>
<line x1="109.70" y1="430.43" x2="110.90" y2="430.43" stroke="#333" stroke-width="0.9"/>
<line x1="109.70" y1="426.30" x2="110.90" y2="426.30" stroke="#333" stroke-width="0.9"/>
<line x1="108.50" y1="422.16" x2="110.90" y2="422.16" stroke="#333" stroke-width="0.9"/>
<line x1="109.70" y1="418.02" x2="110.90" y2="418.02" stroke="#333" stroke-width="0.9"/>
<line x1="109.70" y1="413.89" x2="110.90" y2="413.89" stroke="#333" stroke-width="0.9"/>
<line x1="109.70" y1="409.75" x2="110.90" y2="409.75" stroke="#333" stroke-width="0.9"/>
<line x1="109.70" y1="405.62" x2="110.90" y2="405.62" stroke="#333" stroke-width="0.9"/>
<line x1="108.50" y1="401.48" x2="110.90" y2="401.48" stroke="#333" stroke-width="0.9"/>
<line x1="109.70" y1="397.34" x2="110.90" y2="397.34" stroke="#333" stroke-width="0.9"/>
<line x1="109.70" y1="393.21" x2="110.90" y2="393.21" stroke="#333" stroke-width="0.9"/>
<line x1="109.70" y1="389.07" x2="110.90" y2="389.07" stroke="#333" stroke-width="0.9"/>
<line x1="109.70" y1="384.94" x2="110.90" y2="384.94" stroke="#333" stroke-width="0.9"/>
<line x1="108.50" y1="380.80" x2="110.90" y2="380.80" stroke="#333" stroke-width="0.9"/>
<text transform="translate(104.80 484.20) rotate(-90)" font-size="5.80" text-anchor="middle" fill="#1a1a1a">0</text>
<text transform="translate(104.80 463.52) rotate(-90)" font-size="5.80" text-anchor="middle" fill="#1a1a1a">70</text>
<text transform="translate(104.80 442.84) rotate(-90)" font-size="5.80" text-anchor="middle" fill="#1a1a1a">140</text>
<text transform="translate(104.80 422.16) rotate(-90)" font-size="5.80" text-anchor="middle" fill="#1a1a1a">210</text>
<text transform="translate(104.80 401.48) rotate(-90)" font-size="5.80" text-anchor="middle" fill="#1a1a1a">280</text>
<text transform="translate(104.80 380.80) rotate(-90)" font-size="5.80" text-anchor="middle" fill="#1a1a1a">350</text>
<text transform="translate(97.90 434.50) rotate(-90)" font-size="6.30" text-anchor="middle" fill="#1a1a1a">Counts</text>
<line x1="121.31" y1="484.20" x2="121.31" y2="485.60" stroke="#333" stroke-width="0.9"/>
<line x1="127.40" y1="484.20" x2="127.40" y2="485.60" stroke="#333" stroke-width="0.9"/>
<line x1="131.72" y1="484.20" x2="131.72" y2="485.60" stroke="#333" stroke-width="0.9"/>
<line x1="135.07" y1="484.20" x2="135.07" y2="485.60" stroke="#333" stroke-width="0.9"/>
<line x1="137.80" y1="484.20" x2="137.80" y2="485.60" stroke="#333" stroke-width="0.9"/>
<line x1="140.12" y1="484.20" x2="140.12" y2="485.60" stroke="#333" stroke-width="0.9"/>
<line x1="142.12" y1="484.20" x2="142.12" y2="485.60" stroke="#333" stroke-width="0.9"/>
<line x1="143.89" y1="484.20" x2="143.89" y2="485.60" stroke="#333" stroke-width="0.9"/>
<line x1="155.88" y1="484.20" x2="155.88" y2="485.60" stroke="#333" stroke-width="0.9"/>
<line x1="161.97" y1="484.20" x2="161.97" y2="485.60" stroke="#333" stroke-width="0.9"/>
<line x1="166.29" y1="484.20" x2="166.29" y2="485.60" stroke="#333" stroke-width="0.9"/>
<line x1="169.64" y1="484.20" x2="169.64" y2="485.60" stroke="#333" stroke-width="0.9"/>
<line x1="172.38" y1="484.20" x2="172.38" y2="485.60" stroke="#333" stroke-width="0.9"/>
<line x1="174.69" y1="484.20" x2="174.69" y2="485.60" stroke="#333" stroke-width="0.9"/>
<line x1="176.70" y1="484.20" x2="176.70" y2="485.60" stroke="#333" stroke-width="0.9"/>
<line x1="178.47" y1="484.20" x2="178.47" y2="485.60" stroke="#333" stroke-width="0.9"/>
<line x1="190.46" y1="484.20" x2="190.46" y2="485.60" stroke="#333" stroke-width="0.9"/>
<line x1="196.55" y1="484.20" x2="196.55" y2="485.60" stroke="#333" stroke-width="0.9"/>
<line x1="200.87" y1="484.20" x2="200.87" y2="485.60" stroke="#333" stroke-width="0.9"/>
<line x1="204.22" y1="484.20" x2="204.22" y2="485.60" stroke="#333" stroke-width="0.9"/>
<line x1="206.95" y1="484.20" x2="206.95" y2="485.60" stroke="#333" stroke-width="0.9"/>
<line x1="209.27" y1="484.20" x2="209.27" y2="485.60" stroke="#333" stroke-width="0.9"/>
<line x1="211.27" y1="484.20" x2="211.27" y2="485.60" stroke="#333" stroke-width="0.9"/>
<line x1="213.04" y1="484.20" x2="213.04" y2="485.60" stroke="#333" stroke-width="0.9"/>
<line x1="225.03" y1="484.20" x2="225.03" y2="485.60" stroke="#333" stroke-width="0.9"/>
<line x1="231.12" y1="484.20" x2="231.12" y2="485.60" stroke="#333" stroke-width="0.9"/>
<line x1="235.44" y1="484.20" x2="235.44" y2="485.60" stroke="#333" stroke-width="0.9"/>
<line x1="238.79" y1="484.20" x2="238.79" y2="485.60" stroke="#333" stroke-width="0.9"/>
<line x1="241.53" y1="484.20" x2="241.53" y2="485.60" stroke="#333" stroke-width="0.9"/>
<line x1="243.84" y1="484.20" x2="243.84" y2="485.60" stroke="#333" stroke-width="0.9"/>
<line x1="245.85" y1="484.20" x2="245.85" y2="485.60" stroke="#333" stroke-width="0.9"/>
<line x1="247.62" y1="484.20" x2="247.62" y2="485.60" stroke="#333" stroke-width="0.9"/>
<line x1="110.90" y1="484.20" x2="110.90" y2="486.60" stroke="#333" stroke-width="0.9"/>
<text x="106.50" y="495.10" font-size="6.40" fill="#1a1a1a" textLength="5.80" lengthAdjust="spacingAndGlyphs">10</text>
<text x="112.50" y="492.22" font-size="5.12" fill="#1a1a1a">0</text>
<line x1="145.47" y1="484.20" x2="145.47" y2="486.60" stroke="#333" stroke-width="0.9"/>
<text x="141.07" y="495.10" font-size="6.40" fill="#1a1a1a" textLength="5.80" lengthAdjust="spacingAndGlyphs">10</text>
<text x="147.07" y="492.22" font-size="5.12" fill="#1a1a1a">1</text>
<line x1="180.05" y1="484.20" x2="180.05" y2="486.60" stroke="#333" stroke-width="0.9"/>
<text x="175.65" y="495.10" font-size="6.40" fill="#1a1a1a" textLength="5.80" lengthAdjust="spacingAndGlyphs">10</text>
<text x="181.65" y="492.22" font-size="5.12" fill="#1a1a1a">2</text>
<line x1="214.62" y1="484.20" x2="214.62" y2="486.60" stroke="#333" stroke-width="0.9"/>
<text x="210.22" y="495.10" font-size="6.40" fill="#1a1a1a" textLength="5.80" lengthAdjust="spacingAndGlyphs">10</text>
<text x="216.22" y="492.22" font-size="5.12" fill="#1a1a1a">3</text>
<line x1="249.20" y1="484.20" x2="249.20" y2="486.60" stroke="#333" stroke-width="0.9"/>
<text x="244.80" y="495.10" font-size="6.40" fill="#1a1a1a" textLength="5.80" lengthAdjust="spacingAndGlyphs">10</text>
<text x="250.80" y="492.22" font-size="5.12" fill="#1a1a1a">4</text>
<path d="M112.30 467.00 C112.48 466.52 112.97 465.32 113.40 464.10 C113.83 462.88 114.28 461.92 114.90 459.70 C115.52 457.48 116.37 453.77 117.10 450.80 C117.83 447.83 118.55 444.85 119.30 441.90 C120.05 438.95 120.85 436.05 121.60 433.10 C122.35 430.15 123.07 426.92 123.80 424.20 C124.53 421.48 125.27 418.52 126.00 416.80 C126.73 415.08 127.33 413.65 128.20 413.90 C129.07 414.15 130.22 416.33 131.20 418.30 C132.18 420.27 133.25 423.23 134.10 425.70 C134.95 428.17 135.57 430.40 136.30 433.10 C137.03 435.80 137.75 438.95 138.50 441.90 C139.25 444.85 140.05 447.83 140.80 450.80 C141.55 453.77 142.27 456.75 143.00 459.70 C143.73 462.65 144.47 465.80 145.20 468.50 C145.93 471.20 146.68 474.05 147.40 475.90 C148.12 477.75 148.65 478.62 149.50 479.60 C150.35 480.58 151.28 481.23 152.50 481.80 C153.72 482.37 154.72 482.77 156.80 483.00 C158.88 483.23 161.13 483.10 165.00 483.20 C168.87 483.30 177.50 483.53 180.00 483.60" fill="none" stroke="#6a6a6a" stroke-width="1.20" stroke-dasharray="3.0 2.1" stroke-linejoin="round"/>
<line x1="111.40" y1="436.50" x2="111.40" y2="484.20" stroke="#000" stroke-width="2.20"/>
<path d="M111.10 437.00 C111.13 442.83 111.10 465.62 111.30 472.00 C111.50 478.38 111.85 474.60 112.30 475.30 C112.75 476.00 113.32 475.98 114.00 476.20 C114.68 476.42 115.55 476.63 116.40 476.60 C117.25 476.57 118.37 476.23 119.10 476.00 C119.83 475.77 119.93 475.50 120.80 475.20 C121.67 474.90 123.57 474.45 124.30 474.20 C125.03 473.95 124.55 473.72 125.20 473.70 C125.85 473.68 127.35 474.17 128.20 474.10 C129.05 474.03 129.73 473.65 130.30 473.30 C130.87 472.95 131.08 471.93 131.60 472.00 C132.12 472.07 132.62 473.05 133.40 473.70 C134.18 474.35 134.95 475.28 136.30 475.90 C137.65 476.52 140.22 477.00 141.50 477.40 C142.78 477.80 143.02 478.05 144.00 478.30 C144.98 478.55 146.40 478.77 147.40 478.90 C148.40 479.03 149.25 479.13 150.00 479.10 C150.75 479.07 151.18 479.17 151.90 478.70 C152.62 478.23 153.42 477.18 154.30 476.30 C155.18 475.42 156.32 474.53 157.20 473.40 C158.08 472.27 158.95 471.35 159.60 469.50 C160.25 467.65 160.70 464.47 161.10 462.30 C161.50 460.13 161.68 458.42 162.00 456.50 C162.32 454.58 162.63 452.72 163.00 450.80 C163.37 448.88 163.87 447.18 164.20 445.00 C164.53 442.82 164.77 439.90 165.00 437.70 C165.23 435.50 165.42 433.83 165.60 431.80 C165.78 429.77 165.92 427.47 166.10 425.50 C166.28 423.53 166.48 421.75 166.70 420.00 C166.92 418.25 167.17 416.63 167.40 415.00 C167.63 413.37 167.78 412.18 168.10 410.20 C168.42 408.22 168.90 405.33 169.30 403.10 C169.70 400.87 170.07 398.83 170.50 396.80 C170.93 394.77 171.43 390.90 171.90 390.90 C172.37 390.90 172.88 394.77 173.30 396.80 C173.72 398.83 174.08 400.87 174.40 403.10 C174.72 405.33 174.93 407.97 175.20 410.20 C175.47 412.43 175.77 414.28 176.00 416.50 C176.23 418.72 176.42 420.95 176.60 423.50 C176.78 426.05 176.97 428.93 177.10 431.80 C177.23 434.67 177.27 438.50 177.40 440.70 C177.53 442.90 177.58 443.00 177.90 445.00 C178.22 447.00 178.82 450.13 179.30 452.70 C179.78 455.27 180.23 457.68 180.80 460.40 C181.37 463.12 182.07 466.60 182.70 469.00 C183.33 471.40 183.88 473.03 184.60 474.80 C185.32 476.57 186.03 478.32 187.00 479.60 C187.97 480.88 189.20 481.85 190.40 482.50 C191.60 483.15 192.60 483.30 194.20 483.50 C195.80 483.70 195.70 483.67 200.00 483.70 C204.30 483.73 211.87 483.72 220.00 483.70 C228.13 483.68 244.00 483.62 248.80 483.60" fill="none" stroke="#000" stroke-width="1.50" stroke-linejoin="round" stroke-linecap="round"/>
<path d="M110.30 380.80 H249.80" stroke="#555555" stroke-width="1.15" fill="none"/>
<path d="M249.20 380.80 V484.20" stroke="#858585" stroke-width="1.15" fill="none"/>
<path d="M110.90 484.20 H249.80" stroke="#4a4a4a" stroke-width="1.15" fill="none"/>
<path d="M110.90 380.20 V484.80" stroke="#4a4a4a" stroke-width="1.15" fill="none"/>
<path d="M151.50 386.20 H190.40 M151.50 381.60 V390.80 M190.40 381.60 V390.80" stroke="#111" stroke-width="1.3" fill="none"/>
<text x="153.90" y="396.80" font-size="10.2" font-weight="bold" stroke="#000" stroke-width="0.25" textLength="8.3" lengthAdjust="spacingAndGlyphs">M</text>
<path d="M165.01 396.80 L166.93 396.80 L166.93 389.50 L165.41 389.50 L165.01 390.12 L164.20 390.68 L162.89 390.94 L162.89 392.16 L165.01 391.95 Z" fill="#000" stroke="#000" stroke-width="0.25" stroke-linejoin="round"/>
<text x="177.30" y="377.60" font-size="15.1" font-weight="bold" stroke="#000" stroke-width="0.3" textLength="71.0" lengthAdjust="spacingAndGlyphs">Thrombin</text>
<text x="146.00" y="508.30" font-size="13" font-weight="bold" stroke="#000" stroke-width="0.3" textLength="70.1" lengthAdjust="spacingAndGlyphs">PE – JON/A</text>
<line x1="285.00" y1="484.20" x2="287.40" y2="484.20" stroke="#333" stroke-width="0.9"/>
<line x1="286.20" y1="480.06" x2="287.40" y2="480.06" stroke="#333" stroke-width="0.9"/>
<line x1="286.20" y1="475.93" x2="287.40" y2="475.93" stroke="#333" stroke-width="0.9"/>
<line x1="286.20" y1="471.79" x2="287.40" y2="471.79" stroke="#333" stroke-width="0.9"/>
<line x1="286.20" y1="467.66" x2="287.40" y2="467.66" stroke="#333" stroke-width="0.9"/>
<line x1="285.00" y1="463.52" x2="287.40" y2="463.52" stroke="#333" stroke-width="0.9"/>
<line x1="286.20" y1="459.38" x2="287.40" y2="459.38" stroke="#333" stroke-width="0.9"/>
<line x1="286.20" y1="455.25" x2="287.40" y2="455.25" stroke="#333" stroke-width="0.9"/>
<line x1="286.20" y1="451.11" x2="287.40" y2="451.11" stroke="#333" stroke-width="0.9"/>
<line x1="286.20" y1="446.98" x2="287.40" y2="446.98" stroke="#333" stroke-width="0.9"/>
<line x1="285.00" y1="442.84" x2="287.40" y2="442.84" stroke="#333" stroke-width="0.9"/>
<line x1="286.20" y1="438.70" x2="287.40" y2="438.70" stroke="#333" stroke-width="0.9"/>
<line x1="286.20" y1="434.57" x2="287.40" y2="434.57" stroke="#333" stroke-width="0.9"/>
<line x1="286.20" y1="430.43" x2="287.40" y2="430.43" stroke="#333" stroke-width="0.9"/>
<line x1="286.20" y1="426.30" x2="287.40" y2="426.30" stroke="#333" stroke-width="0.9"/>
<line x1="285.00" y1="422.16" x2="287.40" y2="422.16" stroke="#333" stroke-width="0.9"/>
<line x1="286.20" y1="418.02" x2="287.40" y2="418.02" stroke="#333" stroke-width="0.9"/>
<line x1="286.20" y1="413.89" x2="287.40" y2="413.89" stroke="#333" stroke-width="0.9"/>
<line x1="286.20" y1="409.75" x2="287.40" y2="409.75" stroke="#333" stroke-width="0.9"/>
<line x1="286.20" y1="405.62" x2="287.40" y2="405.62" stroke="#333" stroke-width="0.9"/>
<line x1="285.00" y1="401.48" x2="287.40" y2="401.48" stroke="#333" stroke-width="0.9"/>
<line x1="286.20" y1="397.34" x2="287.40" y2="397.34" stroke="#333" stroke-width="0.9"/>
<line x1="286.20" y1="393.21" x2="287.40" y2="393.21" stroke="#333" stroke-width="0.9"/>
<line x1="286.20" y1="389.07" x2="287.40" y2="389.07" stroke="#333" stroke-width="0.9"/>
<line x1="286.20" y1="384.94" x2="287.40" y2="384.94" stroke="#333" stroke-width="0.9"/>
<line x1="285.00" y1="380.80" x2="287.40" y2="380.80" stroke="#333" stroke-width="0.9"/>
<text transform="translate(281.30 484.20) rotate(-90)" font-size="5.80" text-anchor="middle" fill="#1a1a1a">0</text>
<text transform="translate(281.30 463.52) rotate(-90)" font-size="5.80" text-anchor="middle" fill="#1a1a1a">70</text>
<text transform="translate(281.30 442.84) rotate(-90)" font-size="5.80" text-anchor="middle" fill="#1a1a1a">140</text>
<text transform="translate(281.30 422.16) rotate(-90)" font-size="5.80" text-anchor="middle" fill="#1a1a1a">210</text>
<text transform="translate(281.30 401.48) rotate(-90)" font-size="5.80" text-anchor="middle" fill="#1a1a1a">280</text>
<text transform="translate(281.30 380.80) rotate(-90)" font-size="5.80" text-anchor="middle" fill="#1a1a1a">350</text>
<text transform="translate(274.40 434.50) rotate(-90)" font-size="6.30" text-anchor="middle" fill="#1a1a1a">Counts</text>
<line x1="297.78" y1="484.20" x2="297.78" y2="485.60" stroke="#333" stroke-width="0.9"/>
<line x1="303.85" y1="484.20" x2="303.85" y2="485.60" stroke="#333" stroke-width="0.9"/>
<line x1="308.16" y1="484.20" x2="308.16" y2="485.60" stroke="#333" stroke-width="0.9"/>
<line x1="311.50" y1="484.20" x2="311.50" y2="485.60" stroke="#333" stroke-width="0.9"/>
<line x1="314.23" y1="484.20" x2="314.23" y2="485.60" stroke="#333" stroke-width="0.9"/>
<line x1="316.53" y1="484.20" x2="316.53" y2="485.60" stroke="#333" stroke-width="0.9"/>
<line x1="318.53" y1="484.20" x2="318.53" y2="485.60" stroke="#333" stroke-width="0.9"/>
<line x1="320.30" y1="484.20" x2="320.30" y2="485.60" stroke="#333" stroke-width="0.9"/>
<line x1="332.25" y1="484.20" x2="332.25" y2="485.60" stroke="#333" stroke-width="0.9"/>
<line x1="338.32" y1="484.20" x2="338.32" y2="485.60" stroke="#333" stroke-width="0.9"/>
<line x1="342.63" y1="484.20" x2="342.63" y2="485.60" stroke="#333" stroke-width="0.9"/>
<line x1="345.97" y1="484.20" x2="345.97" y2="485.60" stroke="#333" stroke-width="0.9"/>
<line x1="348.70" y1="484.20" x2="348.70" y2="485.60" stroke="#333" stroke-width="0.9"/>
<line x1="351.01" y1="484.20" x2="351.01" y2="485.60" stroke="#333" stroke-width="0.9"/>
<line x1="353.01" y1="484.20" x2="353.01" y2="485.60" stroke="#333" stroke-width="0.9"/>
<line x1="354.77" y1="484.20" x2="354.77" y2="485.60" stroke="#333" stroke-width="0.9"/>
<line x1="366.73" y1="484.20" x2="366.73" y2="485.60" stroke="#333" stroke-width="0.9"/>
<line x1="372.80" y1="484.20" x2="372.80" y2="485.60" stroke="#333" stroke-width="0.9"/>
<line x1="377.11" y1="484.20" x2="377.11" y2="485.60" stroke="#333" stroke-width="0.9"/>
<line x1="380.45" y1="484.20" x2="380.45" y2="485.60" stroke="#333" stroke-width="0.9"/>
<line x1="383.18" y1="484.20" x2="383.18" y2="485.60" stroke="#333" stroke-width="0.9"/>
<line x1="385.48" y1="484.20" x2="385.48" y2="485.60" stroke="#333" stroke-width="0.9"/>
<line x1="387.48" y1="484.20" x2="387.48" y2="485.60" stroke="#333" stroke-width="0.9"/>
<line x1="389.25" y1="484.20" x2="389.25" y2="485.60" stroke="#333" stroke-width="0.9"/>
<line x1="401.20" y1="484.20" x2="401.20" y2="485.60" stroke="#333" stroke-width="0.9"/>
<line x1="407.27" y1="484.20" x2="407.27" y2="485.60" stroke="#333" stroke-width="0.9"/>
<line x1="411.58" y1="484.20" x2="411.58" y2="485.60" stroke="#333" stroke-width="0.9"/>
<line x1="414.92" y1="484.20" x2="414.92" y2="485.60" stroke="#333" stroke-width="0.9"/>
<line x1="417.65" y1="484.20" x2="417.65" y2="485.60" stroke="#333" stroke-width="0.9"/>
<line x1="419.96" y1="484.20" x2="419.96" y2="485.60" stroke="#333" stroke-width="0.9"/>
<line x1="421.96" y1="484.20" x2="421.96" y2="485.60" stroke="#333" stroke-width="0.9"/>
<line x1="423.72" y1="484.20" x2="423.72" y2="485.60" stroke="#333" stroke-width="0.9"/>
<line x1="287.40" y1="484.20" x2="287.40" y2="486.60" stroke="#333" stroke-width="0.9"/>
<text x="283.00" y="495.10" font-size="6.40" fill="#1a1a1a" textLength="5.80" lengthAdjust="spacingAndGlyphs">10</text>
<text x="289.00" y="492.22" font-size="5.12" fill="#1a1a1a">0</text>
<line x1="321.88" y1="484.20" x2="321.88" y2="486.60" stroke="#333" stroke-width="0.9"/>
<text x="317.48" y="495.10" font-size="6.40" fill="#1a1a1a" textLength="5.80" lengthAdjust="spacingAndGlyphs">10</text>
<text x="323.48" y="492.22" font-size="5.12" fill="#1a1a1a">1</text>
<line x1="356.35" y1="484.20" x2="356.35" y2="486.60" stroke="#333" stroke-width="0.9"/>
<text x="351.95" y="495.10" font-size="6.40" fill="#1a1a1a" textLength="5.80" lengthAdjust="spacingAndGlyphs">10</text>
<text x="357.95" y="492.22" font-size="5.12" fill="#1a1a1a">2</text>
<line x1="390.82" y1="484.20" x2="390.82" y2="486.60" stroke="#333" stroke-width="0.9"/>
<text x="386.43" y="495.10" font-size="6.40" fill="#1a1a1a" textLength="5.80" lengthAdjust="spacingAndGlyphs">10</text>
<text x="392.43" y="492.22" font-size="5.12" fill="#1a1a1a">3</text>
<line x1="425.30" y1="484.20" x2="425.30" y2="486.60" stroke="#333" stroke-width="0.9"/>
<text x="420.90" y="495.10" font-size="6.40" fill="#1a1a1a" textLength="5.80" lengthAdjust="spacingAndGlyphs">10</text>
<text x="426.90" y="492.22" font-size="5.12" fill="#1a1a1a">4</text>
<path d="M289.50 462.00 C289.82 461.40 290.83 459.67 291.40 458.40 C291.97 457.13 292.40 455.88 292.90 454.40 C293.40 452.92 293.92 451.30 294.40 449.50 C294.88 447.70 295.32 445.57 295.80 443.60 C296.28 441.63 296.80 439.67 297.30 437.70 C297.80 435.73 298.38 433.77 298.80 431.80 C299.22 429.83 299.48 427.87 299.80 425.90 C300.12 423.93 300.33 421.75 300.70 420.00 C301.07 418.25 301.40 416.53 302.00 415.40 C302.60 414.27 303.58 413.23 304.30 413.20 C305.02 413.17 305.67 414.10 306.30 415.20 C306.93 416.30 307.30 417.80 308.10 419.80 C308.90 421.80 310.12 424.25 311.10 427.20 C312.08 430.15 313.15 434.07 314.00 437.50 C314.85 440.93 315.45 444.35 316.20 447.80 C316.95 451.25 317.75 455.00 318.50 458.20 C319.25 461.40 319.97 464.30 320.70 467.00 C321.43 469.70 322.17 472.63 322.90 474.40 C323.63 476.17 324.35 476.60 325.10 477.60 C325.85 478.60 326.13 479.62 327.40 480.40 C328.67 481.18 329.77 481.90 332.70 482.30 C335.63 482.70 340.45 482.63 345.00 482.80 C349.55 482.97 357.50 483.22 360.00 483.30" fill="none" stroke="#6a6a6a" stroke-width="1.20" stroke-dasharray="3.0 2.1" stroke-linejoin="round"/>
<line x1="287.55" y1="381.00" x2="287.55" y2="484.20" stroke="#000" stroke-width="2.40"/>
<path d="M288.40 459.00 C288.48 459.38 288.73 460.08 288.90 461.30 C289.07 462.52 288.90 465.23 289.40 466.30 C289.90 467.37 291.07 467.47 291.90 467.70 C292.73 467.93 293.58 468.43 294.40 467.70 C295.22 466.97 295.98 464.85 296.80 463.30 C297.62 461.75 298.65 460.03 299.30 458.40 C299.95 456.77 300.22 454.98 300.70 453.50 C301.18 452.02 301.70 450.98 302.20 449.50 C302.70 448.02 303.20 446.23 303.70 444.60 C304.20 442.97 304.70 441.50 305.20 439.70 C305.70 437.90 306.28 435.20 306.70 433.80 C307.12 432.40 307.22 431.67 307.70 431.30 C308.18 430.93 309.03 432.28 309.60 431.60 C310.17 430.92 310.60 427.33 311.10 427.20 C311.60 427.07 311.98 429.82 312.60 430.80 C313.22 431.78 314.07 431.87 314.80 433.10 C315.53 434.33 316.38 436.48 317.00 438.20 C317.62 439.92 318.02 441.30 318.50 443.40 C318.98 445.50 319.42 448.08 319.90 450.80 C320.38 453.52 320.90 457.23 321.40 459.70 C321.90 462.17 322.28 463.63 322.90 465.60 C323.52 467.57 324.43 469.75 325.10 471.50 C325.77 473.25 326.03 474.93 326.90 476.10 C327.77 477.27 329.10 478.10 330.30 478.50 C331.50 478.90 333.07 478.90 334.10 478.50 C335.13 478.10 335.62 476.83 336.50 476.10 C337.38 475.37 338.60 474.67 339.40 474.10 C340.20 473.53 340.73 473.65 341.30 472.70 C341.87 471.75 342.15 469.92 342.80 468.40 C343.45 466.88 344.40 464.88 345.20 463.60 C346.00 462.32 346.72 460.78 347.60 460.70 C348.48 460.62 349.62 462.07 350.50 463.10 C351.38 464.13 352.18 465.38 352.90 466.90 C353.62 468.42 354.00 470.27 354.80 472.20 C355.60 474.13 356.58 476.90 357.70 478.50 C358.82 480.10 360.22 481.08 361.50 481.80 C362.78 482.52 363.95 482.52 365.40 482.80 C366.85 483.08 364.43 483.35 370.20 483.50 C375.97 483.65 390.87 483.65 400.00 483.70 C409.13 483.75 420.83 483.78 425.00 483.80" fill="none" stroke="#000" stroke-width="1.50" stroke-linejoin="round" stroke-linecap="round"/>
<path d="M286.80 380.80 H425.90" stroke="#555555" stroke-width="1.15" fill="none"/>
<path d="M425.30 380.80 V484.20" stroke="#858585" stroke-width="1.15" fill="none"/>
<path d="M287.40 484.20 H425.90" stroke="#4a4a4a" stroke-width="1.15" fill="none"/>
<path d="M287.40 380.20 V484.80" stroke="#4a4a4a" stroke-width="1.15" fill="none"/>
<path d="M333.20 386.40 H368.40 M333.20 381.80 V391.00 M368.40 381.80 V391.00" stroke="#111" stroke-width="1.3" fill="none"/>
<text x="335.60" y="396.80" font-size="10.2" font-weight="bold" stroke="#000" stroke-width="0.25" textLength="8.3" lengthAdjust="spacingAndGlyphs">M</text>
<path d="M346.71 396.80 L348.63 396.80 L348.63 389.50 L347.11 389.50 L346.71 390.12 L345.90 390.68 L344.59 390.94 L344.59 392.16 L346.71 391.95 Z" fill="#000" stroke="#000" stroke-width="0.25" stroke-linejoin="round"/>
<text x="354.20" y="377.60" font-size="15.1" font-weight="bold" stroke="#000" stroke-width="0.3" textLength="70.6" lengthAdjust="spacingAndGlyphs">Cvx + Thr</text>
<text x="321.90" y="508.30" font-size="13" font-weight="bold" stroke="#000" stroke-width="0.3" textLength="69.3" lengthAdjust="spacingAndGlyphs">PE – JON/A</text>
<text x="-0.3" y="20.6" font-size="30.6" font-weight="bold" stroke="#000" stroke-width="1.0" textLength="21.6" lengthAdjust="spacingAndGlyphs">A</text>
<text x="66.1" y="211.5" font-size="30.8" font-weight="bold" stroke="#000" stroke-width="0.6" textLength="21.2" lengthAdjust="spacingAndGlyphs">B</text>
<text x="65.2" y="388.8" font-size="31.8" font-weight="bold" stroke="#000" stroke-width="0.6" textLength="22.0" lengthAdjust="spacingAndGlyphs">C</text>
</svg>
</body></html>
